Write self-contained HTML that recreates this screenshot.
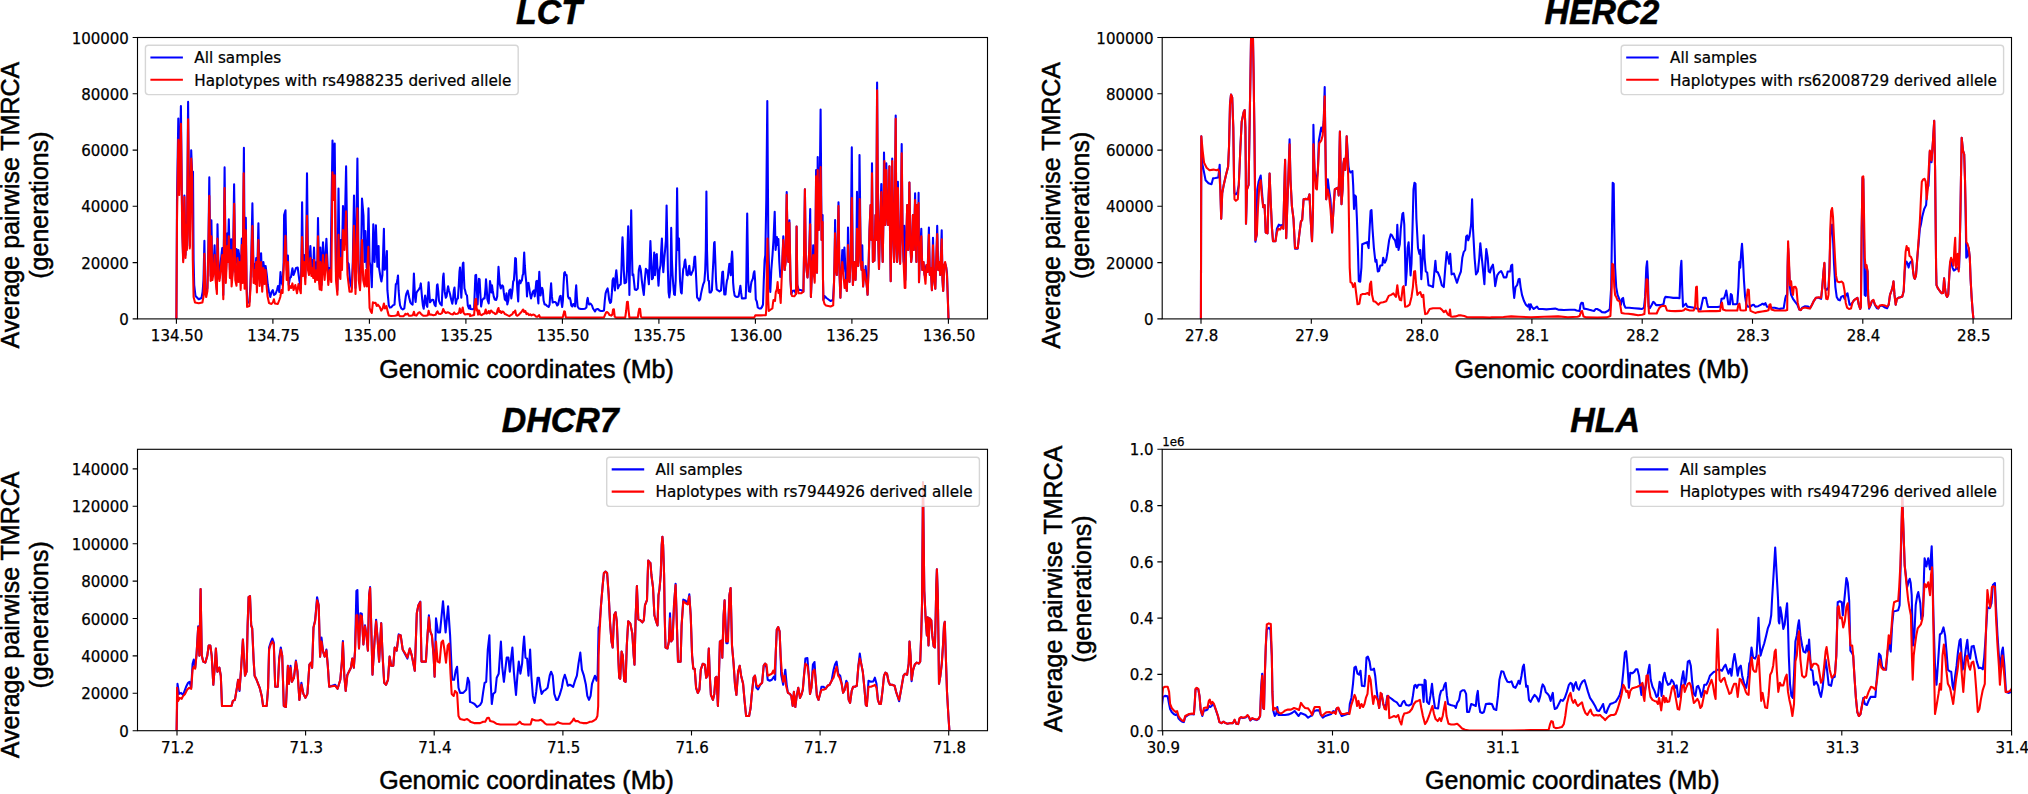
<!DOCTYPE html>
<html><head><meta charset="utf-8"><title>TMRCA</title>
<style>html,body{margin:0;padding:0;background:#fff}svg{display:block}</style></head>
<body>
<svg width="2028" height="794" viewBox="0 0 2028 794">
<rect width="2028" height="794" fill="#fff"/>
<clipPath id="c0"><rect x="137.5" y="37.5" width="850.0" height="281.4"/></clipPath>
<g clip-path="url(#c0)" fill="none" stroke-width="2.08" stroke-linejoin="round" stroke-linecap="butt">
<path d="M176.4 318.8 L177.0 200.0 L178.3 118.5 L179.3 190.0 L180.9 106.0 L182.3 230.0 L183.2 260.0 L184.4 195.6 L185.5 255.0 L186.4 222.0 L186.9 248.0 L188.1 101.9 L189.3 230.0 L189.8 246.0 L191.2 150.3 L192.2 175.0 L193.0 171.7 L193.6 260.0 L194.2 285.0 L195.5 296.0 L198.7 299.3 L201.5 298.0 L202.6 292.0 L203.5 280.0 L204.4 240.8 L205.2 288.0 L206.2 293.0 L207.4 288.0 L208.4 245.0 L209.3 177.4 L210.3 258.0 L210.7 276.0 L211.4 220.4 L212.4 275.0 L213.6 265.0 L214.6 245.4 L215.6 275.0 L216.9 290.0 L217.5 224.3 L218.5 270.0 L219.5 278.0 L220.7 262.0 L222.2 248.0 L223.3 295.0 L224.6 167.4 L225.8 278.0 L227.4 233.3 L228.0 250.0 L228.8 219.3 L229.9 270.0 L231.2 239.3 L231.8 280.0 L233.0 262.0 L234.1 184.2 L235.3 272.0 L236.5 249.0 L237.3 262.0 L238.4 250.0 L239.6 258.0 L240.7 280.0 L241.8 238.5 L242.7 275.0 L243.9 147.9 L244.8 280.0 L245.8 217.8 L246.6 285.0 L247.3 303.0 L249.4 302.0 L250.4 285.0 L251.3 255.0 L252.4 203.4 L253.6 277.0 L254.6 264.0 L255.4 268.0 L256.2 258.0 L256.9 285.0 L258.4 223.3 L259.6 280.0 L261.1 253.3 L262.2 286.0 L263.4 262.0 L264.5 272.0 L265.6 266.0 L266.8 275.0 L267.8 285.0 L269.0 292.0 L270.3 297.0 L271.5 292.0 L272.8 290.0 L274.0 295.0 L275.5 294.0 L277.0 290.0 L278.0 286.0 L279.3 292.0 L280.5 272.0 L281.4 282.0 L282.6 285.0 L283.6 262.0 L284.1 215.0 L285.5 210.2 L286.7 270.0 L287.9 255.6 L288.7 285.0 L289.9 278.0 L291.0 277.0 L292.4 268.3 L293.6 275.0 L294.7 272.0 L296.0 268.0 L297.7 267.5 L299.3 280.0 L300.8 288.0 L301.4 260.0 L302.1 202.3 L303.0 268.0 L304.0 255.0 L305.3 278.0 L306.2 240.0 L307.0 173.3 L308.0 262.0 L309.0 268.0 L310.4 246.1 L311.4 270.0 L312.6 260.0 L313.2 270.0 L314.0 247.6 L315.1 277.0 L316.5 262.0 L317.2 272.0 L318.0 218.1 L319.0 272.0 L319.7 284.0 L320.4 247.6 L321.5 285.0 L323.0 242.3 L324.6 272.0 L326.4 238.9 L328.3 280.0 L329.2 268.0 L330.5 276.0 L332.5 140.5 L333.6 190.0 L334.7 143.5 L336.0 272.0 L337.4 290.0 L338.5 188.5 L339.6 268.0 L340.8 240.0 L341.8 262.0 L343.0 206.0 L344.5 240.0 L346.1 166.4 L347.5 262.0 L348.7 264.0 L350.2 283.0 L351.7 288.0 L352.8 262.0 L354.0 195.6 L355.5 288.0 L357.4 158.6 L358.7 272.0 L360.0 284.0 L361.0 262.0 L362.0 198.6 L363.5 215.9 L364.5 262.0 L365.4 231.0 L366.7 268.0 L367.6 250.0 L368.5 208.3 L369.6 262.0 L370.8 267.5 L371.8 287.2 L372.2 270.0 L373.3 224.3 L374.6 262.0 L375.9 225.3 L377.4 266.8 L378.6 246.1 L379.0 267.6 L380.5 277.4 L381.4 281.5 L382.4 275.1 L383.9 228.7 L384.6 269.8 L385.8 266.8 L386.9 251.0 L387.4 290.2 L388.8 305.4 L389.9 307.6 L391.4 307.2 L392.9 305.4 L394.5 304.6 L395.2 294.0 L395.8 284.2 L396.7 283.4 L397.5 278.9 L398.0 275.5 L398.6 290.2 L399.4 300.0 L400.1 305.4 L401.3 308.4 L402.8 309.5 L404.3 308.4 L405.0 302.3 L405.8 296.3 L406.5 293.3 L407.7 290.6 L408.4 294.0 L409.2 297.8 L410.3 302.3 L411.5 303.8 L412.6 304.6 L413.3 290.2 L413.9 273.6 L414.5 286.5 L415.1 297.8 L415.6 302.0 L416.4 293.3 L417.1 291.7 L418.3 290.2 L419.4 288.7 L420.2 286.5 L420.8 283.4 L421.4 290.2 L422.2 299.3 L422.9 305.4 L423.7 308.8 L424.3 302.3 L425.1 295.5 L425.8 299.3 L426.6 305.4 L427.3 306.9 L427.9 294.0 L428.6 282.3 L429.2 291.7 L430.0 302.3 L431.1 300.8 L432.2 299.7 L433.4 300.0 L434.5 304.6 L435.6 306.1 L436.4 296.3 L437.0 285.0 L437.5 284.3 L438.3 291.7 L439.0 300.8 L440.2 303.8 L441.7 305.4 L442.4 290.2 L443.1 276.6 L443.6 273.6 L444.1 284.2 L444.7 291.7 L445.8 297.8 L446.6 296.3 L447.4 290.2 L448.1 286.3 L448.9 290.2 L450.0 294.0 L451.1 299.3 L452.3 303.8 L453.0 299.3 L453.9 290.2 L454.5 287.6 L455.1 296.3 L455.9 303.8 L456.8 299.3 L457.9 298.5 L458.7 286.5 L459.5 271.3 L460.0 267.6 L460.6 282.7 L461.3 297.8 L461.7 290.2 L462.3 271.3 L462.9 263.4 L463.4 262.6 L464.0 278.9 L464.5 288.7 L465.1 290.2 L465.9 294.0 L467.0 295.5 L467.8 305.4 L468.9 308.4 L470.0 305.4 L470.5 309.0 L472.6 309.3 L474.1 308.5 L474.8 290.4 L475.4 275.3 L476.1 274.8 L476.9 290.4 L477.6 304.5 L478.3 290.4 L478.9 278.8 L479.6 279.3 L480.3 292.4 L481.1 306.5 L482.1 300.5 L483.6 298.4 L484.6 298.4 L485.5 288.4 L486.0 279.3 L486.7 288.4 L487.4 299.4 L488.7 303.5 L489.5 290.4 L490.0 281.1 L490.7 285.3 L491.4 292.4 L492.0 285.3 L492.7 290.4 L493.7 296.4 L494.7 299.4 L496.2 299.9 L497.2 296.4 L497.9 280.3 L498.5 266.7 L499.1 275.3 L499.8 284.3 L500.8 288.4 L501.5 285.8 L502.3 285.3 L503.1 286.3 L503.8 292.4 L504.8 299.4 L505.8 300.5 L506.5 293.4 L507.3 304.5 L508.3 300.5 L509.3 290.4 L510.3 289.4 L511.3 298.4 L512.4 290.4 L513.2 281.3 L513.9 280.3 L514.6 270.2 L515.2 258.1 L515.9 258.6 L516.6 275.3 L517.4 290.4 L518.2 301.5 L518.9 282.3 L519.6 280.3 L520.4 283.3 L521.2 281.3 L521.9 280.3 L522.6 275.3 L523.2 274.3 L523.8 260.2 L524.2 252.6 L524.8 265.2 L525.5 274.8 L526.3 282.3 L527.0 296.4 L527.7 283.3 L528.5 282.8 L529.3 288.4 L530.0 293.4 L531.0 298.4 L532.0 294.4 L533.0 291.4 L534.0 290.4 L534.7 296.4 L535.5 290.4 L536.3 281.3 L537.0 280.8 L537.7 296.4 L538.4 303.5 L538.9 280.3 L539.3 271.7 L539.8 282.3 L540.6 295.4 L541.3 290.4 L542.1 287.9 L542.8 290.4 L543.6 300.5 L544.6 304.5 L545.6 304.5 L547.1 306.0 L548.6 307.0 L549.6 304.5 L550.4 292.4 L551.1 283.3 L551.9 296.4 L552.7 302.5 L553.7 302.0 L555.2 302.0 L556.2 303.0 L557.2 305.5 L558.2 304.5 L559.2 299.4 L559.9 296.4 L560.7 295.9 L561.5 302.5 L562.2 307.0 L562.9 300.5 L563.5 285.3 L564.2 273.2 L564.9 272.2 L565.8 275.3 L566.6 275.1 L567.3 285.3 L568.0 296.4 L568.8 298.4 L569.8 297.9 L570.6 300.5 L571.3 305.5 L572.3 306.5 L573.3 304.0 L574.3 304.5 L575.0 306.5 L575.6 292.4 L576.2 285.3 L576.8 296.4 L577.6 306.5 L578.9 308.5 L580.9 309.0 L582.9 309.0 L584.9 308.8 L586.4 307.5 L587.1 300.5 L587.7 297.9 L588.4 302.5 L589.1 304.5 L589.9 303.5 L590.9 304.0 L592.0 305.5 L593.0 308.5 L594.0 310.0 L595.0 311.5 L596.0 309.5 L597.5 309.0 L598.5 309.3 L599.5 310.5 L601.0 311.0 L602.5 311.0 L604.0 310.5 L604.8 300.5 L605.6 293.4 L606.6 290.4 L607.6 288.4 L608.3 292.4 L609.1 299.4 L610.1 303.0 L611.1 302.0 L611.9 292.4 L612.6 280.3 L613.3 278.3 L614.1 284.3 L614.9 290.4 L615.6 276.3 L616.3 270.2 L617.1 278.3 L617.9 288.4 L619.2 285.3 L620.7 284.3 L621.4 270.2 L622.0 250.1 L622.5 237.3 L623.1 250.1 L623.8 270.2 L624.5 283.3 L626.2 282.3 L627.0 270.2 L627.6 245.0 L628.2 226.4 L628.8 260.2 L629.4 294.9 L630.0 260.2 L630.6 240.0 L631.2 210.3 L631.9 250.1 L632.5 275.3 L633.3 274.3 L634.8 289.4 L636.3 289.9 L637.8 288.4 L638.8 270.2 L639.8 265.7 L640.8 270.2 L641.8 280.3 L642.8 288.4 L643.8 294.9 L644.8 280.3 L645.9 268.7 L646.7 272.2 L647.4 270.2 L648.2 278.3 L648.9 284.3 L649.7 260.2 L650.4 241.0 L651.2 260.2 L651.9 279.3 L652.9 278.3 L653.6 265.2 L654.2 252.6 L654.9 270.2 L655.0 275.3 L656.0 255.1 L656.8 254.1 L657.5 270.2 L658.5 285.8 L659.5 270.2 L660.5 265.2 L661.2 250.1 L661.9 238.5 L662.6 260.2 L663.3 272.2 L664.3 258.1 L665.1 250.1 L665.9 240.0 L666.6 205.5 L667.3 240.0 L667.9 270.2 L668.6 292.4 L669.3 297.4 L670.1 290.4 L670.7 270.2 L671.2 227.9 L671.9 260.2 L672.6 275.3 L673.3 285.3 L674.1 294.4 L674.9 294.9 L675.7 280.3 L676.4 250.1 L677.1 188.3 L677.8 240.0 L678.4 250.1 L679.0 238.5 L679.4 260.2 L680.0 280.3 L681.0 292.4 L681.7 293.4 L682.4 280.3 L683.2 269.2 L684.0 267.2 L684.7 261.2 L685.2 259.6 L686.0 267.2 L686.7 274.8 L687.7 275.3 L688.6 270.2 L689.3 265.7 L690.1 274.3 L691.1 274.8 L692.1 272.2 L693.1 270.2 L693.8 265.2 L694.5 257.1 L695.1 256.6 L695.8 270.2 L696.5 285.3 L697.1 297.4 L698.1 298.4 L699.1 300.5 L700.1 299.4 L701.1 293.4 L702.2 288.4 L703.2 284.3 L704.4 281.3 L705.2 270.2 L705.8 250.1 L706.4 191.6 L707.0 250.1 L707.6 270.2 L708.2 280.3 L708.9 280.8 L709.6 292.4 L710.9 292.4 L711.9 290.4 L712.6 275.3 L713.4 260.2 L714.1 243.0 L714.6 242.0 L715.3 260.2 L716.0 280.3 L716.7 289.4 L718.0 290.4 L719.5 291.4 L721.0 290.4 L721.7 280.3 L722.3 272.2 L723.0 271.7 L723.7 285.3 L724.3 294.4 L725.5 294.4 L726.3 285.3 L727.0 280.3 L727.7 278.3 L728.6 270.2 L729.4 263.7 L730.1 270.2 L730.8 275.3 L731.4 260.2 L732.1 251.6 L732.6 260.2 L733.1 282.3 L733.8 290.4 L734.6 295.4 L735.6 296.4 L737.1 296.9 L738.6 296.4 L739.6 290.4 L740.4 285.8 L741.1 292.4 L741.9 298.4 L743.7 298.4 L745.7 298.2 L746.3 280.3 L746.8 240.0 L747.2 213.5 L747.6 240.0 L748.2 280.3 L748.9 291.4 L750.2 291.9 L750.9 285.3 L751.5 281.8 L752.2 280.3 L752.9 278.3 L753.7 273.2 L754.4 271.2 L755.1 280.3 L755.8 299.4 L756.8 301.5 L757.8 307.5 L759.3 308.5 L760.8 308.5 L762.0 307.0 L763.0 304.5 L763.8 280.3 L764.6 260.2 L765.3 255.1 L763.8 280.3 L765.3 255.0 L766.3 200.0 L767.3 101.0 L768.3 240.0 L769.2 275.0 L770.3 292.0 L771.3 270.0 L772.5 255.0 L773.5 240.0 L774.7 211.7 L775.6 250.0 L776.9 237.0 L777.6 245.0 L778.4 239.0 L779.3 262.0 L780.3 277.0 L782.0 270.0 L783.3 236.3 L784.6 270.0 L785.6 262.0 L786.7 192.0 L787.8 255.0 L788.4 262.0 L789.4 220.4 L790.5 280.0 L791.3 294.0 L792.5 291.0 L794.5 290.5 L796.0 294.0 L796.6 226.5 L797.3 285.0 L798.8 290.0 L801.0 290.0 L803.4 291.7 L804.1 250.0 L804.9 189.4 L805.8 260.0 L806.6 270.0 L807.5 277.4 L808.6 262.0 L809.3 250.0 L810.2 209.1 L810.9 297.0 L811.8 275.0 L812.6 262.0 L813.2 245.4 L813.9 275.0 L814.7 268.0 L815.4 250.0 L816.1 170.0 L817.0 272.8 L817.7 157.1 L818.8 230.0 L819.6 200.0 L820.6 109.5 L821.6 240.0 L822.6 215.1 L823.0 280.0 L823.4 300.0 L824.5 296.0 L826.5 298.0 L830.5 301.0 L833.0 300.0 L834.0 282.7 L834.5 262.0 L835.1 220.0 L835.9 268.0 L836.8 275.0 L837.6 250.0 L838.5 202.3 L839.4 270.0 L840.4 297.8 L841.2 275.0 L842.3 250.0 L843.2 272.0 L844.4 247.6 L845.5 270.0 L846.8 291.0 L847.5 270.0 L848.0 227.6 L848.7 272.0 L849.5 282.0 L850.6 262.0 L851.8 147.4 L852.9 285.0 L853.8 270.0 L854.6 262.0 L855.5 280.0 L856.3 262.0 L857.0 191.7 L858.2 266.0 L859.0 240.0 L859.5 155.1 L860.8 262.0 L861.6 270.0 L862.3 245.4 L863.1 286.5 L864.2 270.0 L865.0 275.0 L865.7 266.0 L866.7 285.0 L867.6 294.8 L868.5 270.0 L869.5 230.0 L870.6 205.0 L871.4 240.0 L872.0 163.3 L872.9 262.0 L873.6 240.0 L874.4 260.8 L875.5 215.0 L876.2 240.0 L877.1 82.6 L878.1 235.0 L879.0 269.0 L880.0 225.0 L881.3 184.0 L882.0 240.0 L882.7 262.0 L883.5 215.0 L884.0 152.5 L885.3 225.0 L886.3 163.3 L887.2 215.0 L888.0 225.0 L888.7 205.0 L889.4 166.3 L890.1 240.0 L890.7 281.2 L891.4 230.0 L892.2 158.6 L893.2 235.0 L894.1 262.0 L894.9 200.0 L895.7 115.6 L896.4 245.0 L897.1 262.0 L897.9 181.7 L898.8 240.0 L900.1 263.8 L900.9 220.0 L901.7 144.1 L902.6 235.0 L903.6 262.0 L904.3 225.7 L905.4 280.0 L906.3 240.0 L907.2 205.0 L908.2 250.0 L909.4 182.5 L910.4 245.0 L911.2 262.0 L911.9 255.0 L912.9 215.0 L913.8 250.0 L915.1 193.2 L915.9 240.0 L916.4 262.0 L917.2 205.0 L917.9 245.0 L918.6 192.9 L919.0 282.3 L919.9 255.0 L921.3 228.7 L922.3 270.0 L923.5 262.0 L924.5 275.0 L925.2 269.0 L926.5 265.0 L927.6 272.0 L928.9 227.6 L929.8 275.0 L930.8 268.0 L931.9 290.2 L933.0 237.8 L934.1 280.0 L935.3 288.7 L936.2 262.0 L937.2 225.7 L938.2 270.0 L939.2 262.0 L940.2 275.0 L941.7 230.2 L942.5 280.0 L943.2 291.0 L944.2 265.0 L945.3 264.0 L946.2 267.0 L947.0 273.0 L948.5 318.8" stroke="#0000ff"/>
<path d="M176.4 318.8 L177.0 220.0 L178.3 139.7 L179.3 195.0 L180.9 123.8 L182.3 235.0 L183.2 262.3 L184.4 197.0 L185.5 258.0 L186.4 225.0 L186.9 250.0 L188.1 119.3 L189.3 235.0 L189.8 248.4 L191.2 158.6 L192.2 178.0 L192.8 260.0 L193.6 297.0 L195.0 302.5 L198.7 303.2 L202.4 302.5 L203.6 296.0 L204.4 253.7 L205.2 292.0 L206.2 297.0 L207.4 291.0 L208.4 250.0 L209.3 195.9 L210.3 262.0 L210.7 281.0 L211.4 236.3 L212.4 280.0 L213.6 272.0 L214.6 255.0 L215.6 280.0 L216.9 294.0 L217.5 238.5 L218.5 275.0 L219.5 281.0 L220.7 270.0 L222.2 255.0 L223.3 299.3 L224.6 188.0 L225.8 283.0 L227.4 246.0 L228.0 262.0 L228.8 236.3 L229.9 278.0 L231.0 250.0 L231.6 286.5 L233.0 270.0 L234.2 203.8 L235.3 280.0 L236.5 285.7 L237.5 258.0 L238.6 282.0 L239.6 262.0 L240.7 289.9 L241.8 245.0 L242.7 283.0 L243.7 173.3 L244.6 288.7 L245.8 230.2 L246.6 290.0 L247.1 306.9 L249.4 306.0 L250.4 290.0 L251.3 262.0 L252.4 226.1 L253.6 283.0 L254.6 270.0 L255.4 284.0 L256.2 262.0 L256.9 292.5 L258.4 240.1 L259.6 286.0 L261.1 262.0 L262.2 291.7 L263.4 268.0 L264.5 284.0 L265.6 270.0 L266.5 285.0 L267.5 296.0 L269.0 303.0 L271.5 304.0 L273.0 302.0 L273.9 299.3 L274.9 303.5 L277.8 304.0 L279.3 300.0 L280.3 297.0 L281.4 290.0 L282.6 293.0 L283.6 270.0 L285.5 235.9 L286.7 280.0 L287.9 262.0 L288.7 290.2 L289.9 286.0 L291.2 288.0 L292.4 283.4 L293.6 290.0 L295.3 285.0 L297.0 293.3 L298.5 284.0 L300.8 293.3 L301.4 270.0 L302.1 237.0 L303.0 276.0 L304.0 262.0 L305.3 284.2 L306.2 250.0 L307.0 215.9 L308.0 270.0 L309.0 275.0 L310.4 258.0 L311.4 276.0 L312.6 268.0 L313.2 278.0 L314.0 260.0 L315.1 281.9 L316.5 270.0 L317.2 280.0 L318.0 236.3 L319.0 280.0 L319.7 289.5 L320.4 262.0 L321.5 290.2 L323.0 255.0 L324.6 280.0 L326.4 254.5 L328.3 285.0 L329.8 270.0 L331.3 282.0 L332.5 172.2 L333.6 200.0 L334.7 175.2 L336.0 280.0 L337.4 294.8 L338.5 234.8 L339.5 275.0 L340.4 279.0 L340.8 258.0 L342.0 270.0 L343.0 230.0 L344.5 250.0 L346.1 211.3 L347.5 275.0 L349.5 291.7 L351.7 291.7 L352.8 270.0 L354.0 225.7 L355.5 294.0 L357.4 208.3 L358.7 280.0 L360.0 290.2 L361.0 270.0 L362.0 240.0 L363.2 280.0 L364.6 286.5 L365.8 270.0 L366.9 286.5 L367.6 262.0 L368.4 246.9 L369.0 290.0 L369.6 308.0 L370.8 311.5 L371.8 313.0 L372.9 302.3 L374.0 303.0 L375.5 302.7 L376.7 306.0 L377.8 304.6 L379.7 306.9 L381.2 310.6 L382.7 308.4 L383.9 303.5 L385.0 308.4 L386.5 306.1 L387.6 311.4 L388.8 315.6 L391.0 316.0 L394.8 315.8 L397.1 315.2 L398.0 311.8 L399.0 315.2 L400.1 316.3 L403.1 316.3 L404.7 315.2 L405.4 313.8 L406.5 314.4 L407.7 313.5 L408.8 315.6 L410.7 315.8 L412.8 315.2 L413.9 311.8 L414.9 315.2 L416.4 315.6 L418.3 312.9 L419.6 312.2 L420.9 313.7 L422.0 314.8 L423.6 315.8 L425.8 315.8 L427.9 315.2 L428.6 310.8 L429.4 314.4 L431.1 314.6 L433.4 315.2 L435.6 314.8 L436.8 312.2 L437.5 311.4 L438.7 313.7 L440.6 314.0 L442.1 312.9 L443.2 309.0 L444.3 311.4 L445.8 312.9 L447.7 312.2 L449.2 312.9 L450.8 314.0 L453.0 314.4 L454.2 312.5 L455.3 314.0 L457.6 313.8 L459.1 312.2 L459.8 308.4 L460.7 312.9 L461.7 311.4 L462.7 307.5 L463.6 312.9 L465.1 314.4 L467.4 314.0 L470.0 314.4 L470.0 316.1 L472.1 315.6 L474.1 315.1 L474.8 305.5 L475.4 299.4 L476.1 298.9 L476.7 310.5 L477.3 309.5 L478.1 314.6 L479.1 310.5 L480.1 314.6 L481.6 315.1 L483.1 314.1 L484.6 313.6 L485.7 309.5 L486.5 313.6 L487.7 313.0 L488.7 311.0 L489.7 313.4 L491.0 310.5 L492.0 311.5 L493.0 312.5 L494.2 313.0 L495.2 314.1 L496.7 313.6 L497.7 309.5 L498.5 308.0 L499.3 312.0 L500.3 311.0 L501.3 313.0 L502.5 311.5 L503.8 312.3 L504.8 314.1 L506.3 314.6 L507.8 315.4 L509.3 316.1 L510.8 315.1 L512.4 314.1 L513.4 312.0 L514.4 312.5 L515.2 310.5 L516.2 315.1 L517.4 315.8 L518.9 314.6 L520.4 313.0 L521.4 312.0 L522.4 310.5 L523.2 309.5 L524.2 312.0 L525.3 311.0 L526.5 314.1 L527.7 313.4 L529.0 315.1 L530.3 314.4 L531.5 315.4 L533.0 314.6 L534.5 315.1 L536.0 316.6 L537.5 316.8 L539.1 315.1 L540.1 317.4 L545.6 317.6 L555.7 317.6 L562.7 317.6 L563.5 314.6 L564.2 311.3 L564.9 311.7 L565.8 317.4 L575.8 317.6 L596.0 317.6 L604.0 317.4 L605.1 314.6 L606.1 312.5 L607.1 312.0 L608.3 313.0 L609.6 315.1 L611.1 315.6 L612.3 314.6 L613.1 309.5 L613.9 309.3 L614.7 316.6 L616.1 317.6 L625.2 317.6 L626.2 310.5 L627.0 302.0 L627.8 301.7 L628.6 310.5 L629.4 317.6 L637.8 317.6 L638.5 312.5 L639.3 308.7 L640.1 309.0 L640.9 316.6 L641.8 317.6 L654.9 317.6 L655.0 317.6 L754.2 317.6 L755.3 315.4 L760.8 315.4 L765.8 315.1 L766.3 309.0 L766.9 270.0 L767.5 238.5 L768.2 300.0 L768.8 311.0 L770.1 310.0 L772.4 308.4 L773.0 303.0 L773.5 300.0 L775.0 301.0 L775.8 292.0 L776.9 289.0 L777.6 282.0 L778.4 293.0 L779.5 290.0 L780.7 303.0 L782.0 270.0 L783.3 240.0 L784.6 270.0 L785.6 262.0 L786.7 194.7 L787.8 255.0 L788.4 262.0 L789.4 222.7 L790.5 280.0 L791.3 294.0 L792.0 295.9 L794.3 296.3 L796.0 294.0 L796.6 226.5 L797.3 285.0 L798.5 293.3 L801.1 293.3 L803.4 291.7 L804.1 250.0 L804.9 189.4 L805.8 260.0 L806.6 270.0 L807.5 277.4 L808.6 262.0 L809.3 250.0 L810.2 224.2 L810.9 297.0 L811.8 275.0 L812.6 262.0 L813.2 255.0 L813.9 275.0 L814.7 282.7 L815.4 250.0 L816.1 176.3 L817.0 272.8 L817.7 170.0 L818.8 230.0 L819.6 200.0 L820.6 167.1 L821.6 240.0 L822.6 222.0 L823.0 280.0 L823.4 300.0 L824.5 304.0 L826.0 305.4 L830.6 306.5 L833.2 305.4 L834.0 282.7 L834.5 262.0 L835.1 233.3 L835.9 268.0 L836.8 275.0 L837.6 250.0 L838.5 206.0 L839.4 270.0 L840.4 297.8 L841.2 275.0 L842.3 262.0 L843.2 272.0 L844.6 288.0 L845.7 280.0 L846.8 291.0 L847.5 270.0 L848.0 245.0 L848.7 272.0 L849.5 282.0 L850.6 262.0 L851.8 198.0 L852.9 285.0 L853.8 270.0 L854.6 262.0 L855.5 280.0 L856.3 262.0 L857.0 228.7 L858.2 266.0 L859.0 240.0 L859.7 199.0 L860.8 262.0 L861.6 270.0 L862.3 262.0 L863.1 286.5 L864.2 270.0 L865.0 275.0 L865.8 280.0 L866.7 285.0 L867.6 294.8 L868.5 270.0 L869.5 230.0 L870.6 205.0 L871.4 240.0 L872.0 173.2 L872.9 262.0 L873.6 240.0 L874.4 260.8 L875.5 215.0 L876.2 240.0 L877.1 90.3 L878.1 235.0 L879.0 269.0 L880.0 225.0 L881.3 192.0 L882.0 240.0 L882.7 262.0 L883.5 215.0 L884.4 161.0 L885.3 225.0 L886.3 170.0 L887.2 215.0 L888.0 225.0 L888.7 205.0 L889.4 166.3 L890.1 240.0 L890.7 281.2 L891.4 230.0 L892.2 161.0 L893.2 235.0 L894.1 262.0 L894.9 200.0 L895.7 118.7 L896.4 245.0 L897.1 262.0 L897.9 188.0 L898.8 240.0 L900.1 263.8 L900.9 220.0 L901.7 153.3 L902.6 235.0 L903.6 262.0 L904.7 288.0 L905.4 288.0 L906.3 240.0 L907.2 205.0 L908.2 250.0 L909.4 182.5 L910.4 245.0 L911.2 262.0 L911.9 255.0 L912.9 215.0 L913.8 250.0 L915.1 200.0 L915.9 240.0 L916.4 262.0 L917.2 205.0 L917.9 245.0 L918.6 203.0 L919.0 282.3 L919.9 255.0 L921.3 236.3 L922.3 270.0 L923.5 262.0 L924.5 275.0 L925.5 283.8 L926.5 265.0 L927.6 272.0 L928.9 234.8 L929.8 275.0 L930.8 268.0 L931.9 290.2 L933.0 245.4 L934.1 280.0 L935.3 288.7 L936.2 262.0 L937.2 234.0 L938.2 270.0 L939.2 262.0 L940.2 275.0 L941.7 239.3 L942.5 280.0 L943.2 291.0 L944.2 265.0 L945.1 262.0 L946.2 268.0 L947.0 276.0 L948.5 318.8" stroke="#ff0000"/>
</g>
<rect x="137.5" y="37.5" width="850.0" height="281.4" fill="none" stroke="#000" stroke-width="1.11"/>
<path d="M176.4 318.9v4.86M272.9 318.9v4.86M369.4 318.9v4.86M465.9 318.9v4.86M562.4 318.9v4.86M658.9 318.9v4.86M755.4 318.9v4.86M851.9 318.9v4.86M948.4 318.9v4.86M137.5 318.9h-4.86M137.5 262.6h-4.86M137.5 206.3h-4.86M137.5 150.1h-4.86M137.5 93.8h-4.86M137.5 37.5h-4.86" stroke="#000" stroke-width="1.11" fill="none"/>
<g font-family='"DejaVu Sans", "Liberation Sans", sans-serif' font-size="15.28" fill="#000" stroke="#000" stroke-width="0.25">
<text transform="translate(177.1 341.2)" font-size="15" text-anchor="middle">134.50</text>
<text transform="translate(273.6 341.2)" font-size="15" text-anchor="middle">134.75</text>
<text transform="translate(370.1 341.2)" font-size="15" text-anchor="middle">135.00</text>
<text transform="translate(466.6 341.2)" font-size="15" text-anchor="middle">135.25</text>
<text transform="translate(563.1 341.2)" font-size="15" text-anchor="middle">135.50</text>
<text transform="translate(659.6 341.2)" font-size="15" text-anchor="middle">135.75</text>
<text transform="translate(756.1 341.2)" font-size="15" text-anchor="middle">136.00</text>
<text transform="translate(852.6 341.2)" font-size="15" text-anchor="middle">136.25</text>
<text transform="translate(949.1 341.2)" font-size="15" text-anchor="middle">136.50</text>
<text transform="translate(128.9 324.9)" font-size="15" text-anchor="end">0</text>
<text transform="translate(128.9 268.6)" font-size="15" text-anchor="end">20000</text>
<text transform="translate(128.9 212.3)" font-size="15" text-anchor="end">40000</text>
<text transform="translate(128.9 156.1)" font-size="15" text-anchor="end">60000</text>
<text transform="translate(128.9 99.8)" font-size="15" text-anchor="end">80000</text>
<text transform="translate(128.9 43.5)" font-size="15" text-anchor="end">100000</text>
<rect x="145.4" y="45.3" width="372.8" height="49.3" rx="3" ry="3" fill="#fff" fill-opacity="0.8" stroke="#ccc" stroke-opacity="0.8" stroke-width="1.39"/>
<path d="M150.4 57.5h32.5" stroke="#0000ff" stroke-width="2.08"/>
<path d="M150.4 79.7h32.5" stroke="#ff0000" stroke-width="2.08"/>
<text transform="translate(194.3 63.3) scale(1 0.99)" font-size="15.2">All samples</text>
<text transform="translate(194.3 85.5) scale(1 0.99)" font-size="15.2">Haplotypes with rs4988235 derived allele</text>
</g>
<text transform="translate(516.1 24.3) scale(1 1.02)" font-family='"Liberation Sans", "DejaVu Sans", sans-serif' font-size="33.9" font-weight="bold" font-style="italic" stroke="#000" stroke-width="0.5">LCT</text>
<text x="379.2" y="378.1" font-family='"Liberation Sans", "DejaVu Sans", sans-serif' font-size="25" stroke="#000" stroke-width="0.5">Genomic coordinates (Mb)</text>
<text transform="translate(19.1 205.1) rotate(-90)" text-anchor="middle" font-family='"Liberation Sans", "DejaVu Sans", sans-serif' font-size="25" stroke="#000" stroke-width="0.5">Average pairwise TMRCA</text>
<text transform="translate(47.9 205.1) rotate(-90)" text-anchor="middle" font-family='"Liberation Sans", "DejaVu Sans", sans-serif' font-size="25" stroke="#000" stroke-width="0.5">(generations)</text>
<clipPath id="c1"><rect x="1162.2" y="37.5" width="849.3" height="281.4"/></clipPath>
<g clip-path="url(#c1)" fill="none" stroke-width="2.08" stroke-linejoin="round" stroke-linecap="butt">
<path d="M1200.9 318.7 L1201.3 136.4 L1202.1 162.8 L1203.7 170.6 L1205.6 180.3 L1208.5 183.3 L1211.5 184.2 L1213.0 178.4 L1215.4 178.0 L1218.3 177.4 L1219.7 164.7 L1221.2 218.8 L1222.2 193.4 L1223.6 185.6 L1226.1 174.5 L1228.1 166.7 L1229.0 147.2 L1230.0 104.2 L1231.0 94.5 L1232.2 97.4 L1233.3 127.6 L1234.1 185.0 L1234.5 193.4 L1235.9 194.4 L1237.4 192.4 L1238.8 185.0 L1240.4 147.2 L1241.7 121.8 L1243.7 112.0 L1244.7 110.1 L1245.4 127.6 L1245.8 170.0 L1246.0 223.7 L1247.0 189.5 L1248.6 185.0 L1249.5 131.0 L1250.5 72.4 L1251.1 33.4 L1252.9 33.4 L1253.6 72.4 L1254.4 131.0 L1255.0 189.5 L1255.4 241.8 L1256.8 234.4 L1257.3 189.5 L1258.7 181.3 L1260.7 175.5 L1261.8 189.5 L1263.2 207.1 L1264.6 205.1 L1265.7 232.5 L1267.5 233.4 L1268.5 199.3 L1269.6 173.5 L1270.6 199.3 L1272.0 228.6 L1273.0 241.2 L1275.5 241.2 L1276.9 228.6 L1278.8 224.7 L1280.8 225.6 L1282.7 224.7 L1283.3 228.6 L1284.3 189.5 L1285.1 159.8 L1285.8 209.0 L1286.2 238.3 L1287.2 209.0 L1288.6 170.0 L1289.6 139.4 L1290.5 179.8 L1291.9 206.1 L1293.5 218.8 L1295.0 248.7 L1297.7 248.7 L1299.3 234.4 L1300.9 221.7 L1302.2 219.8 L1303.6 199.3 L1306.1 198.9 L1308.1 199.3 L1309.5 194.4 L1310.6 218.8 L1312.0 241.2 L1313.0 209.0 L1313.4 124.7 L1314.5 170.0 L1315.9 181.7 L1316.9 177.8 L1317.9 170.0 L1318.8 141.3 L1321.2 127.6 L1322.7 131.9 L1323.7 121.2 L1324.7 87.0 L1325.5 150.5 L1326.2 199.3 L1327.8 179.4 L1329.0 189.5 L1330.5 199.3 L1332.1 232.5 L1333.5 209.0 L1334.8 189.5 L1336.4 188.5 L1338.0 187.6 L1338.7 195.4 L1339.5 150.5 L1339.9 131.5 L1340.7 170.0 L1341.5 204.2 L1342.6 189.5 L1343.4 164.1 L1344.2 158.9 L1345.2 170.0 L1346.2 150.5 L1346.7 136.4 L1348.5 166.1 L1349.1 170.0 L1350.5 172.5 L1352.4 171.0 L1353.2 185.6 L1354.0 209.0 L1354.9 195.4 L1355.9 196.4 L1356.9 218.8 L1357.9 248.1 L1358.8 281.3 L1360.2 281.7 L1361.4 267.6 L1362.2 244.2 L1364.7 243.2 L1367.2 242.2 L1368.6 248.1 L1369.6 228.6 L1370.6 211.0 L1371.5 210.0 L1372.5 228.6 L1373.9 248.1 L1375.4 261.7 L1376.4 259.8 L1377.8 271.5 L1379.0 271.1 L1380.3 265.6 L1382.3 265.3 L1383.2 257.8 L1384.8 262.7 L1386.2 259.8 L1387.5 252.0 L1389.1 240.3 L1390.7 234.4 L1392.0 235.4 L1393.4 238.3 L1395.0 240.3 L1396.5 247.1 L1397.3 224.7 L1398.5 250.0 L1399.8 244.2 L1400.8 228.6 L1402.4 213.9 L1403.2 212.9 L1404.3 224.7 L1405.1 257.8 L1405.7 285.2 L1406.7 271.5 L1407.6 248.1 L1408.6 242.2 L1409.6 257.8 L1410.6 275.4 L1411.5 263.7 L1412.5 228.6 L1413.5 189.5 L1414.5 182.7 L1415.5 183.7 L1416.4 218.8 L1418.0 248.1 L1419.4 253.9 L1420.3 250.0 L1421.3 279.3 L1422.7 257.8 L1423.7 235.4 L1424.6 257.8 L1425.8 271.5 L1427.2 272.5 L1428.5 285.2 L1431.1 286.1 L1433.0 287.1 L1434.4 271.5 L1435.4 260.8 L1436.3 271.5 L1437.9 272.5 L1439.9 277.4 L1441.8 285.2 L1443.8 287.1 L1445.3 267.6 L1446.7 252.0 L1448.1 257.8 L1449.2 263.7 L1450.2 253.9 L1451.6 274.4 L1453.9 273.5 L1455.5 278.3 L1457.0 282.8 L1459.0 276.4 L1460.9 271.5 L1462.3 257.8 L1463.7 252.0 L1465.2 250.0 L1466.2 236.4 L1467.2 235.4 L1468.2 240.3 L1469.5 236.4 L1471.1 224.7 L1472.1 199.3 L1473.0 228.6 L1474.6 257.8 L1476.0 274.4 L1477.9 271.5 L1479.3 257.8 L1480.3 243.2 L1481.2 252.0 L1482.8 267.6 L1484.4 284.2 L1485.1 267.6 L1486.3 249.1 L1487.7 257.8 L1488.7 271.5 L1490.0 272.5 L1491.3 267.6 L1492.9 264.7 L1494.1 273.5 L1495.2 286.1 L1497.2 275.4 L1499.1 272.5 L1501.1 271.1 L1502.4 273.5 L1503.8 277.4 L1506.4 277.4 L1507.7 271.5 L1510.3 271.5 L1511.2 265.6 L1512.2 264.7 L1513.2 287.1 L1514.2 297.9 L1515.5 287.1 L1517.1 285.2 L1518.6 279.3 L1519.6 278.9 L1520.6 287.1 L1522.0 294.9 L1523.9 300.8 L1525.9 304.7 L1527.8 306.6 L1528.8 304.3 L1529.8 309.6 L1530.8 304.3 L1531.7 306.6 L1533.7 309.0 L1535.6 307.6 L1537.0 306.6 L1538.6 309.0 L1542.5 309.0 L1546.4 309.4 L1550.3 309.0 L1555.2 308.6 L1558.1 309.6 L1563.9 310.0 L1569.8 309.8 L1574.7 309.8 L1576.6 310.5 L1579.6 310.9 L1580.5 304.7 L1581.5 302.7 L1582.9 303.1 L1583.8 308.6 L1586.4 309.0 L1589.3 309.8 L1592.2 310.5 L1594.2 310.9 L1595.6 309.0 L1597.1 309.0 L1599.5 310.2 L1602.0 312.1 L1604.9 312.5 L1607.9 310.9 L1609.8 309.0 L1611.2 287.1 L1612.0 228.6 L1612.7 182.7 L1613.7 183.7 L1614.3 228.6 L1615.1 267.6 L1616.2 287.1 L1617.6 294.9 L1619.6 299.8 L1620.9 304.7 L1622.1 298.8 L1623.1 297.9 L1624.1 304.7 L1625.4 307.6 L1629.3 307.8 L1634.2 308.2 L1639.1 308.6 L1642.0 309.0 L1644.0 307.6 L1645.1 296.9 L1646.3 267.6 L1647.1 261.4 L1647.9 277.4 L1648.7 306.6 L1649.8 308.2 L1651.8 304.7 L1653.3 301.8 L1654.7 303.1 L1656.1 305.1 L1658.6 305.1 L1661.5 304.7 L1663.5 304.3 L1664.5 298.8 L1665.4 296.9 L1669.3 297.3 L1673.2 297.9 L1677.2 297.9 L1679.5 298.2 L1680.7 267.6 L1681.4 260.8 L1682.2 287.1 L1683.0 306.6 L1684.6 304.7 L1685.9 303.7 L1687.3 306.6 L1689.8 307.0 L1692.8 307.6 L1695.7 308.2 L1698.6 309.0 L1700.6 309.6 L1702.1 302.7 L1703.1 297.9 L1706.0 297.9 L1707.0 302.7 L1708.0 307.0 L1712.3 307.0 L1717.2 307.0 L1720.5 306.6 L1721.5 298.8 L1724.0 298.4 L1725.2 294.9 L1726.3 290.6 L1727.3 296.9 L1728.3 304.3 L1729.9 304.3 L1730.8 294.0 L1731.8 294.9 L1733.0 304.3 L1735.7 304.3 L1737.3 303.7 L1738.4 287.1 L1739.4 261.7 L1740.2 267.6 L1741.2 252.0 L1742.0 243.8 L1742.9 257.8 L1743.9 279.3 L1745.1 296.9 L1746.4 304.7 L1747.8 306.6 L1750.3 306.6 L1752.3 305.1 L1753.7 304.7 L1755.2 306.6 L1758.2 306.2 L1761.1 304.7 L1762.6 303.7 L1764.0 304.7 L1765.4 303.1 L1766.9 306.6 L1769.3 307.0 L1771.8 307.6 L1774.7 307.8 L1777.7 308.6 L1780.0 309.0 L1780.7 308.6 L1783.7 308.2 L1785.2 298.8 L1786.0 295.9 L1787.2 294.9 L1787.6 267.6 L1788.1 248.1 L1788.9 263.7 L1789.9 287.1 L1791.1 294.9 L1793.0 298.8 L1795.0 301.7 L1797.3 304.7 L1799.3 309.5 L1800.8 310.1 L1802.2 307.6 L1805.1 306.2 L1808.1 306.6 L1810.0 308.2 L1812.0 304.7 L1813.9 300.8 L1815.9 297.8 L1818.8 297.8 L1821.1 298.8 L1822.3 287.1 L1823.5 271.5 L1824.4 263.3 L1825.2 288.1 L1826.6 290.0 L1827.6 289.0 L1828.5 287.1 L1829.5 267.6 L1830.3 238.3 L1831.1 226.6 L1832.1 224.6 L1833.0 238.3 L1834.0 263.7 L1835.4 287.1 L1836.7 296.9 L1838.3 299.8 L1839.9 300.4 L1841.2 296.9 L1843.2 295.9 L1844.6 298.8 L1846.1 294.9 L1847.5 293.3 L1848.5 298.8 L1849.6 304.7 L1851.0 304.7 L1852.4 302.7 L1853.9 300.4 L1855.9 298.8 L1857.4 297.8 L1858.8 304.7 L1860.2 309.0 L1860.9 306.6 L1861.7 228.5 L1862.5 177.8 L1863.3 178.8 L1864.1 248.1 L1864.7 294.9 L1865.8 295.9 L1866.6 267.6 L1867.6 271.5 L1868.2 296.9 L1869.1 308.6 L1870.5 305.6 L1871.9 301.1 L1873.4 300.4 L1875.0 305.1 L1876.9 308.2 L1878.3 308.6 L1879.7 306.2 L1882.2 305.6 L1885.1 307.6 L1887.1 308.2 L1888.7 304.7 L1890.0 294.9 L1891.4 291.0 L1892.6 287.1 L1893.5 281.6 L1894.5 294.9 L1895.7 304.7 L1896.9 298.8 L1898.4 297.8 L1900.4 297.2 L1902.3 296.5 L1903.7 291.0 L1904.7 271.5 L1905.6 263.7 L1906.6 261.7 L1907.6 263.7 L1908.6 267.6 L1909.5 263.7 L1910.9 261.7 L1912.1 260.7 L1913.1 271.5 L1914.0 277.3 L1914.8 278.9 L1916.0 275.4 L1917.3 257.8 L1918.7 242.2 L1919.9 228.5 L1920.9 224.6 L1922.2 216.8 L1924.2 209.0 L1926.1 205.1 L1927.1 189.5 L1928.5 185.6 L1929.3 170.0 L1929.8 151.5 L1931.5 162.2 L1933.0 140.7 L1934.2 120.8 L1935.1 170.0 L1935.7 228.5 L1936.1 267.6 L1936.5 285.1 L1937.8 288.1 L1939.8 291.0 L1941.7 293.3 L1943.1 293.0 L1944.1 278.3 L1944.9 287.1 L1946.0 294.9 L1947.2 296.9 L1948.2 294.9 L1949.2 277.3 L1950.1 262.7 L1951.1 261.7 L1952.5 267.6 L1953.8 270.5 L1955.4 269.5 L1957.0 267.6 L1958.3 269.5 L1959.1 267.6 L1959.7 248.1 L1960.5 209.0 L1961.1 170.0 L1961.7 137.8 L1963.0 150.5 L1964.2 154.2 L1965.0 179.8 L1965.7 218.8 L1966.3 257.8 L1967.5 255.9 L1968.7 248.1 L1969.8 257.8 L1970.6 279.3 L1971.6 296.9 L1972.6 310.5 L1973.4 318.7" stroke="#0000ff"/>
<path d="M1200.9 318.7 L1201.3 136.4 L1202.7 151.1 L1204.1 162.8 L1206.6 167.7 L1209.5 170.2 L1213.4 169.6 L1216.4 170.2 L1218.3 169.6 L1219.3 172.5 L1220.3 189.5 L1221.2 218.8 L1222.2 193.4 L1223.6 185.6 L1226.1 174.5 L1228.1 166.7 L1229.0 147.2 L1230.0 104.2 L1231.0 94.5 L1232.2 97.4 L1233.3 127.6 L1234.1 185.0 L1234.5 199.3 L1235.9 200.8 L1237.8 199.3 L1238.8 185.0 L1240.4 147.2 L1241.7 121.8 L1243.7 112.0 L1244.7 110.1 L1245.4 127.6 L1245.8 170.0 L1246.0 223.7 L1247.0 189.5 L1248.6 185.0 L1249.5 131.0 L1250.5 72.4 L1251.1 33.4 L1252.9 33.4 L1253.6 72.4 L1254.4 131.0 L1255.0 189.5 L1255.4 240.3 L1256.8 234.4 L1257.9 209.0 L1259.3 185.6 L1260.7 180.3 L1261.8 195.4 L1263.2 207.1 L1264.6 205.1 L1265.7 232.5 L1267.5 233.4 L1268.5 199.3 L1269.6 173.5 L1270.6 199.3 L1272.0 228.6 L1273.0 241.2 L1275.5 241.2 L1276.9 232.5 L1278.2 228.6 L1280.2 229.5 L1281.7 226.6 L1283.3 228.6 L1284.3 189.5 L1285.1 159.8 L1285.8 209.0 L1286.2 238.3 L1287.2 209.0 L1288.6 170.0 L1289.6 144.2 L1290.5 179.8 L1291.9 206.1 L1293.5 218.8 L1295.0 248.1 L1297.7 248.1 L1299.3 234.4 L1300.9 221.7 L1302.2 219.8 L1303.6 199.3 L1306.1 198.9 L1308.1 199.3 L1309.5 194.4 L1310.6 218.8 L1312.0 241.2 L1313.0 209.0 L1313.4 144.2 L1314.5 170.0 L1315.9 188.5 L1316.9 189.5 L1317.9 170.0 L1319.2 143.3 L1321.2 140.7 L1322.7 135.4 L1323.7 121.2 L1324.7 96.4 L1325.5 150.5 L1326.2 199.3 L1327.6 189.5 L1329.0 195.4 L1330.5 209.0 L1332.1 232.5 L1333.5 209.0 L1334.8 189.5 L1336.4 188.5 L1338.0 187.6 L1338.7 195.4 L1339.5 150.5 L1339.9 131.5 L1340.7 170.0 L1341.5 204.2 L1342.6 189.5 L1343.4 164.1 L1344.2 158.9 L1345.2 170.0 L1346.2 150.5 L1346.7 136.4 L1347.7 160.2 L1348.5 189.5 L1349.1 228.6 L1349.7 267.6 L1350.5 282.2 L1352.0 283.2 L1353.2 287.1 L1354.9 283.2 L1355.9 291.0 L1357.5 304.3 L1359.4 303.7 L1360.8 294.9 L1362.8 294.0 L1365.3 294.0 L1367.6 293.0 L1369.2 294.9 L1370.0 284.2 L1371.1 281.7 L1372.1 294.9 L1373.5 301.2 L1375.4 301.8 L1378.4 304.7 L1380.3 302.7 L1383.2 302.3 L1386.2 301.2 L1388.7 295.9 L1391.1 294.9 L1393.4 293.4 L1395.9 296.9 L1397.3 285.2 L1398.5 294.9 L1399.8 299.8 L1401.2 300.4 L1402.8 287.1 L1403.7 286.1 L1405.1 306.6 L1407.6 306.2 L1409.6 304.7 L1411.5 296.9 L1412.9 287.1 L1414.1 271.5 L1415.1 271.1 L1416.0 283.2 L1417.4 294.9 L1418.8 293.0 L1420.3 292.0 L1421.9 296.9 L1423.3 294.9 L1424.2 306.6 L1425.2 314.1 L1427.2 313.5 L1429.7 309.0 L1433.0 308.2 L1436.9 308.2 L1439.9 308.2 L1441.8 309.6 L1443.8 312.1 L1445.7 310.5 L1447.7 314.4 L1449.2 315.4 L1450.0 309.6 L1450.8 316.4 L1452.5 316.8 L1455.5 316.4 L1458.4 315.4 L1461.3 315.4 L1464.3 316.0 L1467.2 317.2 L1473.0 317.4 L1482.8 317.4 L1490.0 317.6 L1491.7 317.4 L1503.4 317.0 L1511.2 316.4 L1519.0 316.8 L1530.8 317.2 L1544.4 316.8 L1558.1 316.4 L1567.8 317.2 L1577.6 316.8 L1579.6 316.0 L1580.9 312.1 L1582.1 310.9 L1583.5 316.4 L1586.4 317.4 L1597.1 317.6 L1606.9 317.4 L1610.4 316.0 L1611.4 296.9 L1612.3 263.7 L1613.3 264.7 L1614.3 287.1 L1615.1 294.9 L1616.2 296.9 L1617.6 300.4 L1619.6 301.2 L1620.5 306.6 L1621.5 312.9 L1624.4 313.5 L1628.4 313.7 L1633.2 314.4 L1638.1 315.2 L1642.0 314.8 L1644.4 314.1 L1645.5 296.9 L1646.5 279.3 L1647.5 279.7 L1648.3 302.7 L1649.0 313.5 L1652.8 313.5 L1656.7 313.5 L1658.0 310.5 L1659.6 307.6 L1661.5 306.2 L1663.5 305.7 L1665.4 306.1 L1667.0 310.5 L1670.3 310.9 L1675.2 311.1 L1681.1 310.9 L1684.0 310.2 L1685.3 308.6 L1686.9 309.6 L1689.8 310.5 L1693.7 310.5 L1695.1 306.6 L1696.1 287.1 L1696.9 286.7 L1697.6 306.6 L1698.6 311.5 L1704.5 311.3 L1710.3 311.1 L1716.2 311.1 L1720.1 310.9 L1721.1 304.7 L1722.0 302.7 L1723.0 309.6 L1725.9 310.5 L1731.8 310.5 L1737.3 310.5 L1738.4 304.7 L1739.4 303.7 L1740.4 310.2 L1743.5 310.5 L1745.9 310.2 L1746.8 296.9 L1747.8 289.5 L1748.8 290.0 L1749.6 304.7 L1750.5 310.9 L1753.3 312.1 L1755.2 312.9 L1758.2 312.1 L1762.1 311.5 L1766.0 310.9 L1768.5 310.2 L1769.5 304.7 L1770.5 304.3 L1771.4 309.6 L1774.7 310.5 L1780.0 310.5 L1780.7 310.5 L1785.6 310.5 L1787.2 310.1 L1787.6 267.6 L1788.1 241.2 L1788.9 257.8 L1789.9 285.1 L1791.1 281.2 L1792.1 291.0 L1793.0 294.9 L1793.8 287.1 L1795.4 286.7 L1796.5 289.0 L1797.7 302.7 L1799.3 309.5 L1800.8 310.1 L1802.2 308.2 L1805.1 307.6 L1808.1 308.2 L1810.0 308.6 L1812.0 304.7 L1813.9 300.8 L1815.9 297.8 L1818.8 297.2 L1821.1 297.8 L1822.3 287.1 L1823.5 271.5 L1824.4 262.7 L1825.2 287.1 L1826.2 298.8 L1827.6 299.2 L1828.5 294.9 L1829.5 267.6 L1830.3 228.5 L1831.1 211.0 L1832.1 208.1 L1833.0 216.8 L1834.0 238.3 L1835.0 257.8 L1836.0 275.4 L1837.3 281.6 L1839.3 282.2 L1841.8 281.6 L1843.2 283.2 L1844.6 291.0 L1845.7 302.7 L1847.1 307.6 L1849.0 309.0 L1851.0 308.6 L1852.4 302.7 L1853.9 300.4 L1855.9 298.8 L1857.4 297.8 L1858.8 304.7 L1860.2 309.0 L1860.9 306.6 L1861.7 228.5 L1862.5 176.8 L1863.3 176.4 L1864.1 218.8 L1864.8 257.8 L1865.6 267.6 L1866.6 265.2 L1867.6 271.5 L1868.2 296.9 L1869.1 307.6 L1870.5 304.7 L1871.9 300.8 L1873.4 299.8 L1875.0 304.7 L1876.9 306.6 L1878.3 308.2 L1879.7 305.6 L1882.2 305.1 L1885.1 305.6 L1887.1 306.6 L1888.7 304.7 L1890.0 294.9 L1891.4 291.0 L1892.6 287.1 L1893.5 281.2 L1894.5 294.9 L1895.7 304.7 L1896.9 298.8 L1898.4 297.8 L1900.4 297.2 L1902.3 296.5 L1903.7 291.0 L1904.7 267.6 L1905.6 252.0 L1906.6 246.1 L1907.6 250.0 L1908.6 248.1 L1909.5 255.9 L1910.9 256.8 L1912.1 259.8 L1913.1 271.5 L1914.0 277.3 L1914.8 278.9 L1916.0 275.4 L1917.3 257.8 L1918.7 238.3 L1919.9 220.7 L1920.9 199.3 L1921.8 181.7 L1923.2 179.4 L1924.6 178.8 L1925.7 181.7 L1926.7 199.3 L1927.7 189.5 L1928.7 170.0 L1929.8 150.5 L1931.5 160.4 L1933.0 140.7 L1934.2 120.8 L1935.1 170.0 L1935.7 228.5 L1936.1 267.6 L1936.5 285.1 L1937.8 288.1 L1939.8 291.0 L1941.7 293.3 L1943.1 293.0 L1944.1 278.3 L1944.9 287.1 L1946.0 294.9 L1947.2 296.9 L1948.2 294.9 L1949.2 277.3 L1950.1 261.7 L1951.1 257.8 L1952.5 261.7 L1953.5 265.6 L1954.4 248.1 L1955.2 237.9 L1956.0 267.6 L1957.0 255.9 L1957.7 253.9 L1958.7 271.5 L1959.7 248.1 L1960.5 209.0 L1961.1 170.0 L1961.7 137.8 L1963.0 150.5 L1964.2 154.2 L1965.0 179.8 L1965.7 209.0 L1966.3 242.2 L1967.5 243.8 L1968.7 248.1 L1969.8 257.8 L1970.6 279.3 L1971.6 296.9 L1972.6 310.5 L1973.4 318.7" stroke="#ff0000"/>
</g>
<rect x="1162.2" y="37.5" width="849.3" height="281.4" fill="none" stroke="#000" stroke-width="1.11"/>
<path d="M1201.0 318.9v4.86M1311.3 318.9v4.86M1421.6 318.9v4.86M1531.9 318.9v4.86M1642.2 318.9v4.86M1752.5 318.9v4.86M1862.8 318.9v4.86M1973.1 318.9v4.86M1162.2 318.9h-4.86M1162.2 262.6h-4.86M1162.2 206.3h-4.86M1162.2 150.1h-4.86M1162.2 93.8h-4.86M1162.2 37.5h-4.86" stroke="#000" stroke-width="1.11" fill="none"/>
<g font-family='"DejaVu Sans", "Liberation Sans", sans-serif' font-size="15.28" fill="#000" stroke="#000" stroke-width="0.25">
<text transform="translate(1201.7 341.2)" font-size="15" text-anchor="middle">27.8</text>
<text transform="translate(1312.0 341.2)" font-size="15" text-anchor="middle">27.9</text>
<text transform="translate(1422.3 341.2)" font-size="15" text-anchor="middle">28.0</text>
<text transform="translate(1532.6 341.2)" font-size="15" text-anchor="middle">28.1</text>
<text transform="translate(1642.9 341.2)" font-size="15" text-anchor="middle">28.2</text>
<text transform="translate(1753.2 341.2)" font-size="15" text-anchor="middle">28.3</text>
<text transform="translate(1863.5 341.2)" font-size="15" text-anchor="middle">28.4</text>
<text transform="translate(1973.8 341.2)" font-size="15" text-anchor="middle">28.5</text>
<text transform="translate(1153.6 324.9)" font-size="15" text-anchor="end">0</text>
<text transform="translate(1153.6 268.6)" font-size="15" text-anchor="end">20000</text>
<text transform="translate(1153.6 212.3)" font-size="15" text-anchor="end">40000</text>
<text transform="translate(1153.6 156.1)" font-size="15" text-anchor="end">60000</text>
<text transform="translate(1153.6 99.8)" font-size="15" text-anchor="end">80000</text>
<text transform="translate(1153.6 43.5)" font-size="15" text-anchor="end">100000</text>
<rect x="1621.2" y="45.3" width="382.4" height="49.3" rx="3" ry="3" fill="#fff" fill-opacity="0.8" stroke="#ccc" stroke-opacity="0.8" stroke-width="1.39"/>
<path d="M1626.2 57.5h32.5" stroke="#0000ff" stroke-width="2.08"/>
<path d="M1626.2 79.7h32.5" stroke="#ff0000" stroke-width="2.08"/>
<text transform="translate(1670.1 63.3) scale(1 0.99)" font-size="15.2">All samples</text>
<text transform="translate(1670.1 85.5) scale(1 0.99)" font-size="15.2">Haplotypes with rs62008729 derived allele</text>
</g>
<text transform="translate(1544.5 24.3) scale(1 1.02)" font-family='"Liberation Sans", "DejaVu Sans", sans-serif' font-size="33.9" font-weight="bold" font-style="italic" stroke="#000" stroke-width="0.5">HERC2</text>
<text x="1454.5" y="378.1" font-family='"Liberation Sans", "DejaVu Sans", sans-serif' font-size="25" stroke="#000" stroke-width="0.5">Genomic coordinates (Mb)</text>
<text transform="translate(1060.2 205.3) rotate(-90)" text-anchor="middle" font-family='"Liberation Sans", "DejaVu Sans", sans-serif' font-size="25" stroke="#000" stroke-width="0.5">Average pairwise TMRCA</text>
<text transform="translate(1089.0 205.3) rotate(-90)" text-anchor="middle" font-family='"Liberation Sans", "DejaVu Sans", sans-serif' font-size="25" stroke="#000" stroke-width="0.5">(generations)</text>
<clipPath id="c2"><rect x="137.5" y="449.3" width="850.0" height="281.4"/></clipPath>
<g clip-path="url(#c2)" fill="none" stroke-width="2.08" stroke-linejoin="round" stroke-linecap="butt">
<path d="M176.6 730.6 L177.5 683.8 L179.1 693.9 L181.1 692.9 L183.1 694.9 L186.1 686.8 L188.1 682.8 L189.5 681.8 L191.2 687.8 L192.6 663.7 L193.8 659.6 L195.2 667.7 L196.6 653.6 L198.2 626.4 L199.4 655.6 L200.6 589.1 L201.8 655.6 L203.2 661.6 L205.3 662.6 L207.3 655.6 L208.7 645.5 L210.3 645.5 L211.7 655.6 L213.3 684.8 L214.7 667.7 L215.9 648.5 L217.4 671.7 L219.4 667.7 L220.8 675.7 L222.0 706.0 L231.5 706.0 L232.9 700.9 L234.9 699.9 L236.9 687.8 L238.1 679.8 L239.5 690.9 L240.9 671.7 L242.9 639.5 L245.0 675.7 L246.6 671.7 L247.6 625.4 L248.6 597.2 L250.0 596.2 L251.2 625.4 L252.2 628.4 L253.6 659.6 L254.6 675.7 L256.6 679.8 L259.7 687.8 L261.7 695.9 L263.1 706.0 L266.7 706.0 L268.1 687.8 L269.1 647.5 L270.7 642.5 L272.4 638.5 L273.8 642.5 L275.2 686.8 L277.8 686.8 L279.2 657.6 L280.8 647.5 L282.2 655.6 L283.8 706.0 L285.9 707.0 L287.9 665.7 L288.9 683.8 L290.5 665.7 L291.9 681.8 L293.9 677.8 L295.9 660.6 L297.5 671.7 L299.4 699.9 L301.4 682.8 L303.4 693.9 L305.4 697.9 L307.4 693.9 L309.4 664.7 L311.0 662.6 L312.1 667.7 L313.5 627.4 L315.1 620.3 L317.1 597.2 L318.7 605.2 L320.1 656.6 L321.5 637.5 L323.1 651.6 L324.7 656.6 L326.4 649.6 L327.8 665.7 L329.2 686.8 L335.2 684.8 L337.6 688.8 L340.3 679.8 L341.9 661.6 L342.9 641.1 L344.3 675.7 L345.7 690.9 L347.3 674.7 L348.9 671.7 L350.9 667.7 L352.3 658.6 L353.8 667.7 L355.0 651.6 L356.4 591.1 L357.4 590.1 L359.0 648.5 L360.4 613.3 L361.8 613.7 L363.4 644.5 L365.0 625.4 L366.5 635.4 L367.9 650.6 L369.1 595.1 L370.1 587.1 L371.1 621.3 L372.5 674.7 L374.5 641.5 L376.1 619.7 L377.5 637.5 L379.1 661.6 L381.2 623.0 L382.6 655.6 L384.2 682.8 L386.0 684.8 L388.0 679.8 L389.6 656.6 L391.2 665.7 L393.3 665.7 L394.7 647.5 L396.7 650.6 L398.7 634.4 L400.7 635.4 L402.7 649.6 L404.7 653.6 L407.4 658.6 L409.8 648.5 L411.8 655.6 L414.8 670.7 L416.8 613.3 L418.4 605.2 L420.3 601.6 L421.5 661.6 L425.9 661.6 L427.5 635.4 L428.9 615.3 L430.3 631.4 L431.9 635.4 L433.6 655.6 L434.6 676.8 L436.0 618.3 L438.0 632.4 L440.0 632.4 L443.0 601.2 L445.6 632.4 L448.1 606.2 L450.1 635.4 L452.1 679.8 L454.1 679.8 L455.7 670.7 L457.1 666.7 L458.5 687.8 L460.1 692.9 L463.2 692.9 L466.2 689.8 L467.8 677.8 L469.2 681.8 L470.0 701.9 L470.1 701.9 L472.5 702.9 L474.5 704.0 L477.1 707.0 L480.1 705.0 L481.8 701.9 L483.2 691.9 L484.6 682.8 L486.2 681.8 L487.8 649.6 L489.4 635.4 L490.6 679.8 L491.8 704.0 L493.2 693.9 L495.3 691.9 L496.7 677.8 L498.7 673.7 L499.9 655.6 L500.9 641.5 L502.3 667.7 L503.9 681.8 L505.3 669.7 L506.7 657.6 L508.4 657.6 L509.8 671.7 L511.4 655.6 L512.4 647.5 L514.0 673.7 L516.0 694.9 L517.4 675.7 L518.8 661.6 L520.4 673.7 L522.1 663.7 L523.1 647.5 L524.1 636.5 L525.5 657.6 L527.1 658.6 L528.5 675.7 L530.1 649.6 L531.5 677.8 L532.9 695.9 L534.6 702.9 L536.2 691.9 L537.6 677.8 L539.0 677.8 L540.2 686.8 L541.6 693.9 L543.6 690.9 L545.6 689.8 L547.6 687.8 L549.7 675.7 L551.1 671.7 L552.7 675.7 L554.3 693.9 L556.3 699.9 L557.7 699.9 L559.7 694.9 L561.8 687.8 L563.2 679.8 L564.8 674.7 L566.4 679.8 L567.8 685.8 L569.8 684.8 L571.8 685.8 L573.2 686.8 L575.3 679.8 L576.9 675.7 L578.5 663.7 L580.3 652.6 L581.9 669.7 L583.9 675.7 L585.9 684.8 L587.3 695.9 L589.0 699.9 L590.6 695.9 L592.0 683.8 L593.4 679.8 L595.0 675.7 L596.6 680.8 L597.6 675.7 L598.6 627.4 L599.4 626.4 L601.0 605.2 L602.7 585.1 L603.9 573.0 L605.5 571.6 L607.1 573.0 L608.7 595.1 L610.1 623.4 L611.5 641.5 L612.7 647.5 L614.1 615.3 L615.6 612.3 L616.8 621.3 L618.2 655.6 L619.2 677.8 L620.2 678.8 L621.6 651.6 L622.8 655.6 L624.2 680.8 L625.6 681.8 L626.8 645.5 L628.2 621.3 L630.3 623.4 L632.3 633.4 L633.7 655.6 L634.5 664.7 L635.7 615.3 L636.9 586.1 L638.3 619.3 L640.3 620.3 L642.3 622.4 L643.8 620.3 L645.0 605.2 L647.0 600.2 L647.6 579.0 L648.2 560.5 L649.4 561.9 L650.4 562.9 L651.4 575.0 L653.0 587.1 L654.4 615.3 L655.8 620.3 L657.5 625.4 L658.5 595.1 L659.5 589.1 L660.7 575.0 L661.7 544.8 L662.4 536.7 L663.1 544.8 L664.1 575.0 L664.7 615.3 L665.5 647.5 L667.5 648.5 L668.9 641.5 L670.0 613.3 L671.2 641.5 L672.6 639.5 L674.0 605.2 L675.6 583.7 L676.6 615.3 L678.0 661.6 L680.6 661.6 L681.6 625.4 L683.3 599.6 L685.7 600.8 L687.7 604.2 L689.3 594.3 L690.7 615.3 L692.1 655.6 L693.3 668.7 L694.7 668.7 L696.1 687.8 L697.8 692.9 L699.4 689.8 L700.8 669.7 L702.8 663.7 L704.8 664.7 L706.2 677.8 L707.4 675.7 L708.8 648.5 L709.8 675.7 L710.9 694.9 L712.9 699.9 L714.3 693.9 L715.5 677.8 L716.5 676.8 L717.9 706.0 L718.9 675.7 L719.9 641.5 L721.3 640.5 L722.3 657.6 L723.6 615.3 L724.6 600.2 L726.4 643.1 L727.6 643.1 L729.4 595.1 L730.6 588.1 L732.0 645.5 L733.6 663.7 L735.0 684.8 L736.4 694.9 L738.1 671.7 L739.7 665.7 L741.1 675.7 L743.1 683.8 L744.5 699.9 L746.1 716.0 L749.1 716.0 L750.6 708.0 L751.6 695.9 L753.6 677.7 L755.0 675.7 L756.4 687.8 L758.1 689.4 L760.1 684.8 L762.1 682.8 L763.7 665.7 L765.1 663.6 L766.5 667.7 L767.7 679.8 L769.7 680.8 L771.8 679.8 L773.8 676.7 L775.2 679.8 L775.8 651.6 L776.8 629.4 L778.2 627.0 L779.6 631.4 L780.6 655.6 L781.2 674.7 L783.2 684.8 L785.3 669.7 L786.7 684.8 L787.9 692.8 L789.9 693.9 L791.3 695.9 L792.7 705.9 L793.9 691.8 L795.3 707.0 L796.7 695.9 L798.3 687.8 L800.0 697.9 L801.4 694.9 L802.8 689.8 L804.0 675.7 L805.4 658.6 L807.4 658.0 L808.8 675.7 L810.0 693.9 L811.4 687.8 L812.9 664.6 L814.5 662.0 L815.5 677.7 L816.9 695.9 L818.5 699.9 L820.1 693.9 L821.5 686.8 L823.5 686.8 L825.5 688.8 L827.6 685.8 L829.6 684.8 L831.6 680.8 L833.6 669.7 L835.0 664.6 L836.6 661.6 L838.2 673.7 L840.2 675.7 L841.7 683.8 L843.1 692.8 L844.7 689.8 L846.3 680.8 L847.3 682.8 L848.7 699.9 L850.1 702.9 L851.7 690.8 L853.1 686.8 L854.8 686.8 L856.8 685.8 L858.4 665.7 L859.8 653.6 L861.2 663.6 L862.8 671.7 L864.4 687.8 L865.8 704.9 L866.8 705.9 L868.5 680.8 L870.9 681.8 L873.3 681.4 L874.9 677.7 L876.5 683.8 L877.9 699.9 L879.3 703.9 L880.9 703.9 L882.6 689.8 L884.0 675.7 L885.4 672.7 L887.0 673.7 L888.6 681.8 L890.0 684.8 L892.0 684.8 L894.6 685.8 L896.1 691.8 L897.5 695.9 L899.1 701.3 L900.7 691.8 L902.1 683.8 L903.5 675.7 L905.1 673.7 L907.1 674.7 L908.7 663.6 L909.5 641.5 L910.6 655.6 L911.6 681.2 L913.2 669.7 L914.8 664.6 L916.8 662.6 L918.8 663.6 L920.2 661.6 L921.2 635.4 L922.0 605.2 L923.0 482.3 L924.3 591.1 L925.7 619.3 L926.9 635.4 L927.7 617.3 L928.5 645.5 L929.7 618.3 L931.3 620.3 L932.3 635.4 L933.7 646.5 L934.9 647.5 L935.7 615.3 L936.3 585.1 L936.9 569.2 L937.8 595.1 L938.4 635.4 L939.0 683.8 L940.4 675.7 L941.8 663.6 L943.0 645.5 L944.0 625.4 L944.8 621.7 L945.8 655.6 L947.0 691.8 L948.4 716.0 L949.4 730.5" stroke="#0000ff"/>
<path d="M176.6 730.6 L177.1 687.8 L178.1 700.9 L179.7 697.9 L181.7 698.9 L183.1 695.9 L185.1 693.9 L187.1 689.8 L189.1 687.8 L191.2 688.8 L192.6 669.7 L193.8 666.7 L195.2 668.7 L196.6 653.6 L198.2 627.4 L199.4 655.6 L200.6 589.1 L201.8 655.6 L203.2 661.6 L205.3 662.6 L207.3 655.6 L208.7 645.5 L210.3 645.5 L211.7 655.6 L213.3 684.8 L214.7 667.7 L215.9 648.5 L217.4 671.7 L219.4 667.7 L220.8 675.7 L222.0 706.0 L231.5 706.0 L232.9 700.9 L234.9 699.9 L236.9 687.8 L238.1 679.8 L239.5 689.8 L240.9 671.7 L242.9 639.5 L245.0 675.7 L246.6 671.7 L247.6 625.4 L248.6 597.2 L250.0 596.2 L251.2 625.4 L252.2 628.4 L253.6 659.6 L254.6 675.7 L256.6 679.8 L259.7 687.8 L261.7 695.9 L263.1 706.0 L266.7 706.0 L268.1 687.8 L269.1 649.6 L270.7 644.5 L272.4 641.5 L273.8 644.5 L275.2 686.8 L277.8 686.8 L279.2 659.6 L280.8 649.6 L282.2 655.6 L283.8 706.0 L285.9 707.0 L287.9 665.7 L288.9 683.8 L290.5 667.7 L291.9 681.8 L293.9 677.8 L295.9 661.6 L297.5 671.7 L299.4 699.9 L301.4 684.8 L303.4 693.9 L305.4 697.9 L307.4 693.9 L309.4 664.7 L311.0 662.6 L312.1 667.7 L313.5 627.4 L315.1 621.3 L317.1 600.2 L318.7 605.2 L320.1 656.6 L321.5 641.5 L323.1 651.6 L324.7 656.6 L326.4 650.6 L327.8 665.7 L329.2 686.8 L335.2 685.8 L337.6 688.8 L340.3 679.8 L341.9 661.6 L342.9 642.5 L344.3 675.7 L345.7 690.9 L347.3 675.7 L348.9 671.7 L350.9 667.7 L352.3 658.6 L353.8 667.7 L355.0 651.6 L356.4 615.3 L357.4 615.3 L359.0 648.5 L360.4 615.3 L361.8 616.3 L363.4 644.5 L365.0 626.4 L366.5 635.4 L367.9 650.6 L369.1 595.1 L370.1 588.1 L371.1 621.3 L372.5 674.7 L374.5 641.5 L376.1 621.3 L377.5 637.5 L379.1 661.6 L381.2 623.4 L382.6 655.6 L384.2 682.8 L386.0 684.8 L388.0 679.8 L389.6 656.6 L391.2 665.7 L393.3 665.7 L394.7 647.5 L396.7 650.6 L398.7 635.4 L400.7 635.4 L402.7 649.6 L404.7 652.6 L407.4 657.6 L409.8 648.5 L411.8 655.6 L414.8 670.7 L416.8 613.3 L418.4 605.2 L420.3 602.2 L421.5 661.6 L425.9 661.6 L427.5 635.4 L428.9 617.3 L430.3 631.4 L431.9 635.4 L433.6 655.6 L434.6 676.8 L436.0 641.5 L437.6 661.6 L439.6 662.6 L441.4 642.5 L443.0 640.5 L444.4 649.6 L446.0 662.6 L447.7 645.5 L449.1 643.5 L450.5 673.7 L451.7 693.9 L453.7 695.9 L455.1 690.9 L457.1 692.9 L458.5 716.0 L460.1 719.1 L464.2 720.1 L467.2 719.1 L470.0 721.1 L470.1 721.7 L474.1 723.1 L480.1 723.1 L483.2 721.7 L485.2 721.7 L487.2 718.1 L488.8 717.7 L490.2 721.1 L493.2 721.7 L496.3 723.7 L500.3 724.5 L516.4 724.5 L518.4 723.1 L519.8 721.7 L521.5 723.7 L524.5 724.5 L530.5 724.5 L532.1 719.1 L533.5 719.7 L535.6 720.5 L538.6 720.5 L540.6 719.7 L542.6 721.1 L544.6 723.1 L546.6 724.5 L554.7 724.5 L556.7 723.1 L558.1 722.1 L559.7 723.1 L562.8 723.7 L569.8 723.7 L572.4 721.1 L573.8 718.5 L575.3 721.1 L577.9 721.1 L579.9 722.5 L582.9 723.1 L586.9 723.1 L590.0 721.7 L592.0 721.7 L594.0 720.5 L596.0 719.1 L597.4 716.0 L598.2 706.0 L598.6 655.6 L599.4 635.4 L601.0 605.2 L602.7 585.1 L603.9 573.0 L605.5 571.6 L607.1 573.0 L608.7 595.1 L610.1 623.4 L611.5 641.5 L612.7 647.5 L614.1 615.3 L615.6 612.3 L616.8 621.3 L618.2 655.6 L619.2 677.8 L620.2 678.8 L621.6 651.6 L622.8 655.6 L624.2 680.8 L625.6 681.8 L626.8 645.5 L628.2 621.3 L630.3 623.4 L632.3 633.4 L633.7 655.6 L634.5 664.7 L635.7 615.3 L636.9 586.1 L638.3 619.3 L640.3 620.3 L642.3 622.4 L643.8 620.3 L645.0 605.2 L647.0 600.2 L647.6 579.0 L648.2 560.5 L649.4 561.9 L650.4 562.9 L651.4 575.0 L653.0 587.1 L654.4 615.3 L655.8 620.3 L657.5 625.4 L658.5 595.1 L659.5 589.1 L660.7 575.0 L661.7 544.8 L662.4 536.7 L663.1 544.8 L664.1 575.0 L664.7 615.3 L665.5 647.5 L667.5 648.5 L668.9 641.5 L670.0 618.3 L671.2 641.5 L672.6 639.5 L674.0 605.2 L675.6 585.1 L676.6 615.3 L678.0 661.6 L680.6 661.6 L681.6 625.4 L683.3 601.2 L685.7 603.2 L687.7 604.2 L689.3 596.2 L690.7 615.3 L692.1 655.6 L693.3 668.7 L694.7 668.7 L696.1 687.8 L697.8 692.9 L699.4 689.8 L700.8 669.7 L702.8 663.7 L704.8 664.7 L706.2 677.8 L707.4 675.7 L708.8 648.5 L709.8 675.7 L710.9 694.9 L712.9 699.9 L714.3 693.9 L715.5 677.8 L716.5 676.8 L717.9 706.0 L718.9 675.7 L719.9 641.5 L721.3 640.5 L722.3 657.6 L723.6 615.3 L724.6 600.2 L726.0 641.5 L728.0 641.5 L729.4 595.1 L730.6 588.1 L732.0 645.5 L733.6 663.7 L735.0 684.8 L736.4 694.9 L738.1 671.7 L739.7 665.7 L741.1 675.7 L743.1 683.8 L744.5 699.9 L746.1 716.0 L749.1 716.0 L750.6 708.0 L751.6 695.9 L753.6 677.7 L755.0 675.7 L756.4 684.8 L758.1 686.8 L760.1 684.8 L762.1 682.8 L763.7 665.7 L765.1 663.6 L766.5 664.6 L767.7 675.7 L769.7 674.7 L771.8 673.7 L773.2 670.7 L774.6 673.7 L775.8 651.6 L776.8 629.4 L778.2 627.0 L779.6 631.4 L780.6 655.6 L781.8 671.7 L783.2 681.8 L784.6 675.7 L786.3 686.8 L787.9 692.8 L789.9 693.9 L791.3 695.9 L792.7 705.9 L793.9 691.8 L795.3 707.0 L796.7 695.9 L798.3 687.8 L800.0 697.9 L801.4 694.9 L802.8 689.8 L804.0 675.7 L805.4 663.6 L807.4 665.7 L808.8 675.7 L810.0 693.9 L811.4 687.8 L812.9 671.7 L814.5 669.7 L815.5 677.7 L816.9 695.9 L818.5 699.9 L820.1 693.9 L821.5 689.8 L823.5 689.8 L825.5 688.8 L827.6 685.8 L829.6 684.8 L831.6 680.8 L833.6 677.7 L835.0 671.7 L836.6 666.7 L838.2 675.7 L839.6 677.7 L841.7 683.8 L843.1 692.8 L844.7 689.8 L846.3 683.8 L847.3 682.8 L848.7 699.9 L850.1 702.9 L851.7 690.8 L853.1 686.8 L854.8 686.8 L856.8 685.8 L858.4 665.7 L859.8 658.6 L861.2 663.6 L862.8 671.7 L864.4 687.8 L865.8 704.9 L866.8 705.9 L868.5 686.8 L870.9 686.8 L873.3 685.8 L874.9 684.8 L876.5 687.8 L877.9 699.9 L879.3 703.9 L880.9 703.9 L882.6 689.8 L884.0 675.7 L885.4 672.7 L887.0 673.7 L888.6 681.8 L890.0 684.8 L892.0 684.8 L894.6 685.8 L896.1 691.8 L897.5 695.9 L899.1 699.9 L900.7 691.8 L902.1 683.8 L903.5 675.7 L905.1 673.7 L907.1 674.7 L908.7 663.6 L909.5 641.5 L910.6 655.6 L911.6 679.8 L913.2 669.7 L914.8 664.6 L916.8 662.6 L918.8 663.6 L920.2 661.6 L921.2 635.4 L922.0 605.2 L923.0 482.3 L924.3 591.1 L925.7 619.3 L926.9 635.4 L927.7 617.3 L928.5 645.5 L929.7 618.3 L931.3 620.3 L932.3 635.4 L933.7 646.5 L934.9 647.5 L935.7 615.3 L936.3 585.1 L936.9 569.2 L937.8 595.1 L938.4 635.4 L939.0 683.8 L940.4 675.7 L941.8 663.6 L943.0 645.5 L944.0 625.4 L944.8 621.7 L945.8 655.6 L947.0 691.8 L948.4 716.0 L949.4 730.5" stroke="#ff0000"/>
</g>
<rect x="137.5" y="449.3" width="850.0" height="281.4" fill="none" stroke="#000" stroke-width="1.11"/>
<path d="M177.0 730.7v4.86M305.6 730.7v4.86M434.2 730.7v4.86M562.9 730.7v4.86M691.5 730.7v4.86M820.1 730.7v4.86M948.7 730.7v4.86M137.5 730.7h-4.86M137.5 693.3h-4.86M137.5 655.9h-4.86M137.5 618.5h-4.86M137.5 581.1h-4.86M137.5 543.7h-4.86M137.5 506.3h-4.86M137.5 468.9h-4.86" stroke="#000" stroke-width="1.11" fill="none"/>
<g font-family='"DejaVu Sans", "Liberation Sans", sans-serif' font-size="15.28" fill="#000" stroke="#000" stroke-width="0.25">
<text transform="translate(177.7 753.0)" font-size="15" text-anchor="middle">71.2</text>
<text transform="translate(306.3 753.0)" font-size="15" text-anchor="middle">71.3</text>
<text transform="translate(434.9 753.0)" font-size="15" text-anchor="middle">71.4</text>
<text transform="translate(563.6 753.0)" font-size="15" text-anchor="middle">71.5</text>
<text transform="translate(692.2 753.0)" font-size="15" text-anchor="middle">71.6</text>
<text transform="translate(820.8 753.0)" font-size="15" text-anchor="middle">71.7</text>
<text transform="translate(949.4 753.0)" font-size="15" text-anchor="middle">71.8</text>
<text transform="translate(128.9 736.7)" font-size="15" text-anchor="end">0</text>
<text transform="translate(128.9 699.3)" font-size="15" text-anchor="end">20000</text>
<text transform="translate(128.9 661.9)" font-size="15" text-anchor="end">40000</text>
<text transform="translate(128.9 624.5)" font-size="15" text-anchor="end">60000</text>
<text transform="translate(128.9 587.1)" font-size="15" text-anchor="end">80000</text>
<text transform="translate(128.9 549.7)" font-size="15" text-anchor="end">100000</text>
<text transform="translate(128.9 512.3)" font-size="15" text-anchor="end">120000</text>
<text transform="translate(128.9 474.9)" font-size="15" text-anchor="end">140000</text>
<rect x="606.7" y="457.2" width="372.7" height="49.2" rx="3" ry="3" fill="#fff" fill-opacity="0.8" stroke="#ccc" stroke-opacity="0.8" stroke-width="1.39"/>
<path d="M611.7 469.4h32.5" stroke="#0000ff" stroke-width="2.08"/>
<path d="M611.7 491.6h32.5" stroke="#ff0000" stroke-width="2.08"/>
<text transform="translate(655.6 475.2) scale(1 0.99)" font-size="15.2">All samples</text>
<text transform="translate(655.6 497.4) scale(1 0.99)" font-size="15.2">Haplotypes with rs7944926 derived allele</text>
</g>
<text transform="translate(501.8 432.4) scale(1 1.02)" font-family='"Liberation Sans", "DejaVu Sans", sans-serif' font-size="33.9" font-weight="bold" font-style="italic" stroke="#000" stroke-width="0.5">DHCR7</text>
<text x="379.2" y="789.2" font-family='"Liberation Sans", "DejaVu Sans", sans-serif' font-size="25" stroke="#000" stroke-width="0.5">Genomic coordinates (Mb)</text>
<text transform="translate(19.1 614.9) rotate(-90)" text-anchor="middle" font-family='"Liberation Sans", "DejaVu Sans", sans-serif' font-size="25" stroke="#000" stroke-width="0.5">Average pairwise TMRCA</text>
<text transform="translate(47.9 614.9) rotate(-90)" text-anchor="middle" font-family='"Liberation Sans", "DejaVu Sans", sans-serif' font-size="25" stroke="#000" stroke-width="0.5">(generations)</text>
<clipPath id="c3"><rect x="1162.2" y="449.3" width="849.3" height="281.4"/></clipPath>
<g clip-path="url(#c3)" fill="none" stroke-width="2.08" stroke-linejoin="round" stroke-linecap="butt">
<path d="M1160.0 716.0 L1161.6 708.0 L1163.0 696.9 L1165.0 695.9 L1167.7 696.3 L1169.1 704.0 L1170.1 709.0 L1171.7 712.0 L1173.7 714.0 L1175.7 715.0 L1177.1 714.0 L1178.5 718.5 L1180.1 720.1 L1182.2 721.7 L1183.8 722.1 L1185.2 717.1 L1187.2 715.6 L1189.2 714.4 L1192.2 714.0 L1193.9 714.4 L1194.7 704.0 L1195.5 689.8 L1196.7 688.2 L1198.3 689.4 L1199.5 695.9 L1200.7 710.4 L1202.3 716.0 L1203.9 710.4 L1205.9 710.4 L1207.4 709.6 L1208.8 706.0 L1210.4 707.0 L1211.6 706.0 L1212.8 704.0 L1214.0 705.0 L1216.0 710.4 L1218.0 716.4 L1219.4 722.1 L1221.5 723.1 L1223.5 721.7 L1225.5 723.1 L1227.5 723.7 L1230.5 723.1 L1232.9 723.1 L1234.6 720.1 L1236.2 723.7 L1238.2 724.1 L1239.6 718.5 L1241.0 717.5 L1243.0 718.1 L1245.6 717.5 L1247.6 715.6 L1249.1 717.7 L1250.3 720.5 L1252.3 718.5 L1254.7 719.5 L1256.7 720.1 L1258.7 718.9 L1260.1 716.0 L1261.1 687.8 L1262.2 673.7 L1263.2 708.0 L1264.0 709.0 L1264.8 675.7 L1265.8 646.5 L1266.8 629.4 L1268.8 627.8 L1270.4 629.4 L1271.8 655.6 L1272.4 691.9 L1273.2 710.4 L1274.8 716.0 L1276.1 714.0 L1277.3 707.0 L1278.5 715.0 L1280.9 715.0 L1284.9 715.0 L1289.0 714.4 L1292.0 713.0 L1294.6 711.0 L1297.0 714.0 L1298.6 716.0 L1300.6 713.0 L1303.1 714.0 L1305.5 715.0 L1308.1 717.7 L1310.7 716.0 L1312.1 715.6 L1314.1 711.0 L1316.2 710.4 L1319.2 710.4 L1320.8 715.0 L1322.8 717.7 L1325.2 716.0 L1328.2 715.0 L1331.3 714.0 L1333.3 711.0 L1334.9 713.0 L1336.3 709.0 L1338.3 708.0 L1339.7 712.0 L1341.7 716.0 L1344.4 715.0 L1347.4 714.0 L1349.0 714.0 L1349.8 704.0 L1351.4 697.9 L1353.0 683.8 L1354.4 667.7 L1355.8 666.7 L1357.5 673.7 L1359.1 674.7 L1360.5 670.7 L1361.9 685.8 L1364.5 686.2 L1365.5 675.7 L1366.5 657.6 L1367.9 656.6 L1369.6 661.6 L1370.8 669.7 L1372.6 669.7 L1374.0 668.7 L1375.2 675.7 L1376.6 689.8 L1377.6 697.9 L1379.2 708.0 L1380.6 695.9 L1381.6 693.9 L1383.3 704.0 L1384.7 708.0 L1386.1 704.0 L1387.3 695.9 L1389.7 697.5 L1391.7 698.9 L1394.1 700.9 L1396.8 702.3 L1399.4 706.0 L1400.8 706.0 L1402.8 701.9 L1404.2 700.9 L1406.2 705.0 L1408.8 705.6 L1411.5 704.0 L1412.9 695.9 L1414.3 685.8 L1415.5 684.8 L1416.9 687.8 L1418.3 684.8 L1420.9 684.8 L1422.3 684.8 L1423.6 701.9 L1424.6 679.8 L1425.6 680.8 L1427.0 701.9 L1429.0 704.0 L1430.4 695.9 L1432.0 683.8 L1433.2 695.9 L1435.0 708.0 L1438.1 708.4 L1439.7 695.9 L1441.1 690.9 L1443.1 689.8 L1444.5 684.8 L1445.7 682.8 L1446.9 695.9 L1448.1 704.0 L1450.6 705.0 L1452.6 705.6 L1454.6 706.0 L1455.8 708.0 L1457.2 702.9 L1458.6 700.9 L1459.1 699.9 L1460.5 691.9 L1462.5 690.3 L1464.5 690.3 L1466.1 693.9 L1467.1 712.0 L1469.1 712.0 L1471.2 704.0 L1473.8 705.0 L1475.8 706.0 L1476.8 695.9 L1477.8 690.9 L1478.8 704.0 L1480.2 712.0 L1482.2 713.0 L1483.9 712.0 L1485.9 704.0 L1489.3 703.6 L1491.9 704.0 L1493.9 709.0 L1496.3 710.0 L1498.0 695.9 L1499.4 679.8 L1501.4 671.3 L1503.4 671.7 L1505.4 677.8 L1507.4 681.8 L1509.4 682.2 L1511.5 681.4 L1513.5 686.8 L1515.5 687.8 L1517.5 683.8 L1518.5 680.8 L1519.9 683.8 L1521.5 675.7 L1522.9 666.7 L1523.9 664.7 L1525.0 675.7 L1526.2 686.8 L1527.6 685.8 L1529.0 699.9 L1530.6 701.9 L1532.6 697.9 L1534.6 694.9 L1536.6 696.9 L1538.7 701.5 L1540.3 695.9 L1541.7 687.8 L1542.7 684.4 L1544.3 686.8 L1545.7 691.9 L1547.7 693.9 L1549.1 695.9 L1550.7 700.9 L1551.8 695.9 L1552.8 692.9 L1553.8 704.0 L1554.8 709.0 L1556.8 708.0 L1558.8 704.0 L1560.8 699.9 L1562.8 700.9 L1564.8 697.9 L1566.9 691.9 L1568.9 684.8 L1570.5 682.8 L1571.9 683.8 L1573.3 690.9 L1574.5 684.8 L1575.9 682.2 L1577.3 687.8 L1579.0 689.8 L1580.6 684.8 L1582.6 681.4 L1584.6 680.2 L1586.0 684.8 L1588.0 691.9 L1590.0 697.9 L1592.7 701.9 L1595.1 706.0 L1597.1 710.4 L1599.1 711.0 L1601.5 707.0 L1603.1 704.0 L1604.7 712.0 L1606.2 713.0 L1608.2 708.0 L1610.2 704.0 L1613.2 702.9 L1615.6 701.9 L1617.6 698.9 L1619.7 694.9 L1621.7 687.8 L1623.3 671.7 L1624.9 652.6 L1626.1 651.2 L1627.3 663.7 L1628.9 687.8 L1630.3 672.7 L1632.3 673.3 L1634.4 671.7 L1635.8 669.3 L1637.4 669.3 L1639.0 675.7 L1640.4 687.8 L1641.4 694.9 L1642.4 683.8 L1643.4 687.8 L1645.0 690.9 L1646.5 681.8 L1648.5 669.7 L1649.5 664.7 L1650.7 679.8 L1652.5 686.8 L1654.5 690.9 L1656.5 696.9 L1657.9 695.9 L1659.6 681.8 L1660.6 683.8 L1661.6 695.9 L1663.2 677.8 L1664.6 672.7 L1666.0 679.8 L1668.0 684.8 L1670.0 683.8 L1671.6 679.8 L1673.3 681.8 L1675.3 687.8 L1676.7 685.4 L1678.1 696.9 L1679.7 695.9 L1681.7 679.8 L1683.3 671.3 L1684.7 684.8 L1686.1 679.8 L1687.8 661.6 L1689.4 660.6 L1690.8 665.7 L1692.2 681.8 L1693.8 693.9 L1695.4 695.9 L1696.8 686.8 L1698.2 685.8 L1699.8 689.8 L1701.3 696.9 L1702.9 691.9 L1704.3 684.8 L1706.3 684.8 L1707.9 681.8 L1709.9 675.7 L1711.9 673.7 L1714.0 671.7 L1715.6 671.7 L1717.0 669.7 L1720.0 669.7 L1722.0 670.7 L1724.0 666.7 L1725.6 664.7 L1727.1 669.7 L1728.5 673.7 L1730.1 668.7 L1731.5 675.7 L1733.1 661.6 L1734.5 654.0 L1736.1 663.7 L1737.7 675.7 L1739.1 667.7 L1740.8 665.7 L1742.2 675.7 L1744.2 683.8 L1746.2 687.8 L1748.2 675.7 L1749.2 663.7 L1750.1 661.6 L1751.5 647.5 L1753.1 657.6 L1755.1 658.6 L1756.5 655.6 L1757.7 635.4 L1758.5 617.7 L1759.5 641.5 L1760.6 655.6 L1762.2 649.6 L1764.2 643.5 L1766.2 635.4 L1767.8 628.4 L1769.8 623.4 L1771.2 615.3 L1772.0 600.2 L1775.2 547.6 L1778.1 600.2 L1778.7 621.3 L1779.3 623.4 L1780.3 607.2 L1781.7 615.3 L1783.3 629.0 L1784.7 624.4 L1786.3 609.3 L1787.1 603.2 L1788.0 625.4 L1788.8 655.6 L1790.0 683.8 L1791.4 695.9 L1792.8 697.9 L1794.0 675.7 L1795.4 641.5 L1796.8 635.4 L1798.0 625.4 L1799.0 620.3 L1800.4 635.4 L1802.1 645.5 L1803.5 651.6 L1805.5 652.6 L1806.9 645.5 L1808.1 651.6 L1809.1 639.5 L1810.1 655.6 L1810.9 669.7 L1812.5 670.7 L1814.1 684.8 L1816.2 681.8 L1818.2 685.8 L1819.6 692.9 L1821.0 696.9 L1822.6 687.8 L1824.2 671.7 L1825.6 659.6 L1827.0 669.7 L1828.7 684.8 L1831.1 685.8 L1832.7 677.8 L1834.7 676.8 L1836.3 655.6 L1837.7 602.2 L1839.7 601.2 L1841.8 602.2 L1842.8 615.3 L1844.8 595.1 L1846.4 578.0 L1847.8 583.1 L1849.2 601.2 L1850.4 650.6 L1851.8 652.6 L1853.2 655.6 L1854.4 675.7 L1855.9 697.9 L1857.3 712.0 L1858.9 716.0 L1860.5 714.0 L1861.9 706.0 L1863.3 697.9 L1864.9 704.0 L1866.9 705.0 L1869.0 699.9 L1870.6 696.9 L1873.0 696.9 L1875.4 696.9 L1877.0 675.7 L1879.0 653.6 L1880.6 655.6 L1882.1 666.7 L1884.1 668.7 L1886.1 669.7 L1887.5 651.6 L1889.1 644.5 L1890.7 651.6 L1892.1 625.4 L1893.5 611.3 L1895.6 610.9 L1898.2 610.3 L1899.6 605.2 L1900.4 575.0 L1902.3 498.4 L1904.7 565.3 L1907.2 587.1 L1908.8 581.0 L1909.7 578.8 L1910.7 583.1 L1911.7 595.1 L1912.9 645.5 L1914.3 635.4 L1915.7 605.2 L1917.3 595.1 L1918.3 592.1 L1920.3 603.2 L1921.3 619.3 L1923.0 615.3 L1924.0 575.0 L1924.6 558.3 L1926.4 566.5 L1928.2 558.3 L1930.0 569.4 L1931.7 546.2 L1932.6 575.0 L1933.4 615.3 L1935.0 665.7 L1936.5 684.8 L1938.5 655.6 L1939.9 634.4 L1941.5 633.4 L1943.5 627.4 L1945.1 635.4 L1946.5 651.6 L1947.9 669.7 L1949.6 671.3 L1951.2 671.7 L1952.6 685.8 L1953.6 689.8 L1955.2 675.7 L1956.6 665.7 L1958.0 651.6 L1959.6 640.5 L1960.6 639.1 L1961.6 655.6 L1962.6 669.7 L1964.1 663.7 L1965.7 649.6 L1967.3 639.9 L1968.7 655.6 L1970.1 658.6 L1971.7 646.5 L1973.7 645.9 L1975.3 653.6 L1976.8 661.6 L1978.8 668.1 L1980.8 667.7 L1982.8 669.3 L1984.2 657.6 L1985.8 635.4 L1987.4 607.2 L1989.8 608.2 L1991.5 603.2 L1992.9 585.1 L1994.9 583.1 L1995.9 605.2 L1997.5 635.4 L1998.9 655.6 L2000.3 667.7 L2001.9 651.6 L2002.9 647.5 L2004.4 665.7 L2006.0 691.9 L2009.0 692.9 L2011.6 691.9 L2014.0 687.8" stroke="#0000ff"/>
<path d="M1160.0 714.0 L1161.6 704.0 L1163.0 687.8 L1165.0 686.8 L1167.7 686.8 L1169.1 691.9 L1170.1 704.0 L1171.7 708.0 L1173.7 710.4 L1175.7 712.0 L1177.1 711.0 L1178.5 716.0 L1180.1 718.5 L1182.2 720.5 L1183.8 721.1 L1185.2 716.0 L1187.2 715.0 L1189.2 714.0 L1192.2 713.6 L1193.9 714.0 L1194.7 704.0 L1195.5 688.8 L1196.7 687.8 L1198.3 688.8 L1199.5 695.9 L1200.7 710.0 L1202.3 715.0 L1203.9 708.0 L1205.9 707.6 L1207.4 708.0 L1208.8 700.9 L1209.8 699.5 L1211.0 704.0 L1212.4 701.9 L1214.0 704.0 L1216.0 710.0 L1218.0 716.0 L1219.4 722.1 L1221.5 723.1 L1223.5 721.7 L1225.5 723.1 L1227.5 723.7 L1230.5 723.1 L1232.9 723.1 L1234.6 719.7 L1236.2 723.7 L1238.2 724.1 L1239.6 718.1 L1241.0 717.1 L1243.0 717.7 L1245.6 717.1 L1247.6 715.0 L1249.1 717.1 L1250.3 720.1 L1252.3 718.1 L1254.7 719.1 L1256.7 719.7 L1258.7 718.5 L1260.1 716.0 L1261.1 691.9 L1262.2 675.7 L1263.2 708.0 L1264.0 709.0 L1264.8 675.7 L1265.8 645.5 L1266.8 624.4 L1268.8 623.4 L1270.8 624.0 L1271.8 655.6 L1272.4 691.9 L1273.2 710.0 L1274.8 708.0 L1276.5 709.0 L1277.9 712.0 L1280.9 713.6 L1283.3 712.0 L1285.3 710.4 L1287.9 709.6 L1291.0 709.6 L1294.0 708.0 L1297.0 709.0 L1299.0 710.0 L1301.0 702.9 L1303.1 706.0 L1305.1 708.0 L1308.1 708.4 L1310.7 712.0 L1312.1 715.0 L1313.5 710.0 L1314.7 707.0 L1317.2 707.0 L1319.6 707.0 L1320.8 714.0 L1322.2 716.0 L1324.2 714.0 L1326.2 712.4 L1329.3 712.0 L1332.3 713.0 L1334.3 712.0 L1335.7 714.0 L1336.9 708.0 L1338.3 707.6 L1339.7 711.0 L1341.3 714.0 L1344.4 714.0 L1347.4 713.0 L1349.4 714.0 L1351.0 706.0 L1353.0 699.9 L1354.6 694.9 L1355.8 697.9 L1357.1 706.0 L1358.5 700.9 L1359.9 708.0 L1361.5 704.0 L1363.1 707.0 L1364.5 704.0 L1365.9 697.9 L1367.5 693.9 L1369.1 675.7 L1370.6 679.8 L1372.0 693.9 L1373.2 704.0 L1374.6 695.9 L1376.0 696.9 L1377.6 699.9 L1379.2 708.0 L1380.6 692.9 L1381.6 693.9 L1383.3 704.0 L1384.7 709.0 L1386.1 709.6 L1387.3 696.9 L1388.3 695.9 L1389.3 718.1 L1391.7 717.1 L1394.1 716.0 L1396.1 717.1 L1398.2 715.0 L1399.8 721.1 L1401.4 724.5 L1402.8 717.1 L1404.2 713.6 L1406.8 713.0 L1409.4 712.0 L1411.9 709.0 L1413.9 704.0 L1415.9 701.5 L1417.9 700.9 L1419.9 699.9 L1421.3 708.0 L1422.9 716.0 L1425.0 724.1 L1427.0 721.1 L1429.0 716.0 L1431.0 710.0 L1432.4 706.0 L1434.0 714.0 L1435.6 719.1 L1437.7 721.1 L1439.7 718.1 L1441.1 721.1 L1442.7 716.0 L1444.1 708.0 L1445.3 701.9 L1446.5 716.0 L1448.5 723.7 L1451.2 724.5 L1454.2 724.5 L1457.2 723.7 L1459.7 726.1 L1462.1 728.5 L1465.1 729.7 L1469.1 730.6 L1490.3 730.6 L1510.4 730.6 L1530.6 730.1 L1544.7 730.1 L1548.7 729.7 L1550.1 724.1 L1551.3 721.1 L1552.8 721.7 L1553.8 727.1 L1555.8 728.1 L1558.8 727.7 L1561.8 727.1 L1563.8 724.1 L1565.3 716.0 L1566.9 704.0 L1568.9 695.9 L1570.5 692.9 L1571.9 699.9 L1573.3 702.9 L1574.9 699.9 L1576.5 704.0 L1577.9 706.0 L1580.0 704.0 L1582.0 702.3 L1583.4 708.0 L1585.4 713.0 L1587.4 715.0 L1589.0 712.0 L1590.6 709.6 L1592.1 714.0 L1594.1 715.6 L1596.1 715.0 L1598.1 715.6 L1600.1 715.0 L1602.1 717.1 L1603.5 718.1 L1605.1 720.1 L1607.2 717.7 L1609.2 716.0 L1611.2 715.0 L1613.6 715.0 L1615.6 714.0 L1617.6 709.0 L1619.7 701.9 L1621.7 693.9 L1623.3 684.8 L1624.9 687.8 L1626.3 691.9 L1627.7 690.9 L1628.9 697.9 L1630.3 690.9 L1632.3 688.2 L1635.0 687.4 L1637.4 686.8 L1639.4 685.8 L1641.0 684.8 L1642.4 682.8 L1643.4 695.9 L1644.4 700.9 L1645.4 687.8 L1646.5 675.7 L1647.9 675.3 L1649.1 687.8 L1650.5 696.9 L1652.5 699.9 L1654.5 700.9 L1656.5 701.5 L1657.9 704.0 L1659.1 697.9 L1660.2 704.0 L1661.2 710.4 L1662.6 698.9 L1663.6 695.9 L1664.8 702.3 L1666.0 697.9 L1667.2 701.9 L1669.2 701.5 L1670.6 694.9 L1672.0 687.8 L1673.3 685.8 L1674.7 691.9 L1676.1 699.9 L1677.7 709.0 L1679.3 709.6 L1680.7 699.9 L1682.1 685.8 L1683.7 684.8 L1684.7 691.9 L1686.1 687.8 L1687.8 683.8 L1689.4 682.8 L1690.8 685.4 L1692.2 693.9 L1693.8 702.9 L1695.8 700.9 L1697.4 698.9 L1698.8 701.5 L1700.3 708.0 L1701.9 706.0 L1703.5 697.9 L1704.9 690.9 L1706.9 693.5 L1708.3 687.8 L1709.9 683.8 L1711.5 679.8 L1712.9 684.8 L1714.4 693.9 L1715.6 698.9 L1716.6 655.6 L1717.6 629.4 L1718.6 655.6 L1719.6 679.8 L1721.0 681.8 L1723.0 678.8 L1724.4 677.8 L1726.0 683.8 L1727.7 688.8 L1729.3 693.9 L1731.1 692.9 L1732.5 687.8 L1734.1 683.8 L1736.1 683.8 L1737.7 696.9 L1738.7 687.8 L1739.7 678.8 L1741.2 679.8 L1742.6 683.8 L1744.2 686.8 L1745.8 691.9 L1747.2 694.3 L1748.6 694.9 L1749.1 685.8 L1750.5 665.7 L1751.7 657.6 L1753.1 669.7 L1754.5 671.7 L1756.1 671.7 L1757.7 659.6 L1758.7 655.6 L1760.1 681.8 L1761.2 700.9 L1762.6 692.9 L1763.8 699.9 L1765.2 707.6 L1767.2 708.0 L1768.6 695.9 L1770.2 674.7 L1771.8 671.7 L1773.2 665.7 L1774.7 651.6 L1775.7 649.6 L1776.9 671.7 L1778.3 691.9 L1779.9 682.8 L1781.3 685.4 L1783.3 685.4 L1785.3 677.8 L1786.7 674.7 L1788.0 691.9 L1789.4 699.9 L1790.8 706.0 L1792.4 716.0 L1794.0 704.0 L1795.4 661.6 L1796.8 655.6 L1798.0 637.5 L1799.0 631.4 L1800.4 659.6 L1802.1 675.7 L1804.1 677.4 L1806.1 675.7 L1807.5 663.7 L1808.9 651.6 L1810.1 659.6 L1811.5 667.7 L1813.5 663.7 L1816.2 663.7 L1818.2 665.7 L1819.6 673.7 L1821.0 682.8 L1822.6 679.8 L1824.2 665.7 L1825.6 651.6 L1826.6 647.1 L1828.3 659.6 L1829.7 669.7 L1831.7 677.8 L1833.7 675.7 L1835.1 673.7 L1836.3 655.6 L1837.7 607.2 L1838.7 606.2 L1840.1 618.3 L1841.8 617.3 L1843.2 627.4 L1844.8 621.3 L1846.4 607.2 L1847.8 603.2 L1849.2 625.4 L1850.4 645.5 L1852.2 645.5 L1853.2 655.6 L1854.4 675.7 L1855.9 697.9 L1857.3 712.0 L1858.9 716.0 L1860.5 714.0 L1861.9 706.0 L1863.3 699.9 L1864.9 696.9 L1866.5 697.9 L1868.6 691.9 L1871.0 686.8 L1873.4 687.8 L1875.4 689.8 L1877.0 679.8 L1878.6 665.7 L1880.0 659.6 L1881.4 667.7 L1883.1 669.7 L1885.5 669.7 L1887.1 655.6 L1888.7 635.4 L1890.1 643.5 L1891.5 627.4 L1892.7 611.3 L1894.1 602.2 L1896.2 601.2 L1898.2 600.8 L1899.2 587.1 L1900.4 564.9 L1902.3 497.0 L1904.7 565.3 L1906.8 587.1 L1908.2 600.2 L1909.7 609.3 L1910.9 615.3 L1911.9 655.6 L1912.7 679.8 L1913.7 655.6 L1914.9 645.5 L1916.3 635.4 L1917.7 628.4 L1919.3 626.4 L1920.9 624.4 L1922.3 619.3 L1923.8 595.1 L1924.6 583.7 L1926.4 587.1 L1928.2 582.3 L1930.0 595.1 L1931.0 575.0 L1932.0 567.3 L1932.8 595.1 L1933.4 625.4 L1934.4 685.8 L1935.0 714.0 L1936.5 706.0 L1938.5 693.9 L1939.9 683.8 L1941.1 689.8 L1942.5 655.6 L1943.9 644.5 L1945.1 655.6 L1946.5 671.7 L1947.9 683.8 L1950.0 687.8 L1951.6 695.9 L1953.2 704.0 L1954.6 691.9 L1956.0 679.8 L1957.6 669.7 L1959.2 655.6 L1960.6 652.6 L1961.6 671.7 L1963.3 691.9 L1964.7 671.7 L1966.1 657.6 L1967.3 655.6 L1968.7 665.7 L1970.1 669.7 L1971.7 662.6 L1973.3 661.6 L1974.7 669.7 L1976.1 687.8 L1977.8 712.0 L1979.4 709.0 L1980.8 699.9 L1982.8 689.8 L1984.8 683.8 L1985.8 635.4 L1987.4 590.1 L1988.8 601.2 L1990.3 607.2 L1991.9 587.1 L1993.5 586.1 L1994.9 587.1 L1995.9 615.3 L1997.5 645.5 L1998.9 665.7 L1999.9 684.8 L2001.3 667.7 L2002.5 655.6 L2004.0 671.7 L2005.6 691.9 L2008.0 691.9 L2010.0 690.9 L2011.6 688.8 L2014.0 683.8" stroke="#ff0000"/>
</g>
<rect x="1162.2" y="449.3" width="849.3" height="281.4" fill="none" stroke="#000" stroke-width="1.11"/>
<path d="M1162.7 730.7v4.86M1332.5 730.7v4.86M1502.3 730.7v4.86M1672.0 730.7v4.86M1841.8 730.7v4.86M2011.6 730.7v4.86M1162.2 730.7h-4.86M1162.2 674.4h-4.86M1162.2 618.1h-4.86M1162.2 561.9h-4.86M1162.2 505.6h-4.86M1162.2 449.3h-4.86" stroke="#000" stroke-width="1.11" fill="none"/>
<g font-family='"DejaVu Sans", "Liberation Sans", sans-serif' font-size="15.28" fill="#000" stroke="#000" stroke-width="0.25">
<text transform="translate(1163.4 753.0)" font-size="15" text-anchor="middle">30.9</text>
<text transform="translate(1333.2 753.0)" font-size="15" text-anchor="middle">31.0</text>
<text transform="translate(1503.0 753.0)" font-size="15" text-anchor="middle">31.1</text>
<text transform="translate(1672.7 753.0)" font-size="15" text-anchor="middle">31.2</text>
<text transform="translate(1842.5 753.0)" font-size="15" text-anchor="middle">31.3</text>
<text transform="translate(2012.3 753.0)" font-size="15" text-anchor="middle">31.4</text>
<text transform="translate(1153.6 736.7)" font-size="15" text-anchor="end">0.0</text>
<text transform="translate(1153.6 680.4)" font-size="15" text-anchor="end">0.2</text>
<text transform="translate(1153.6 624.1)" font-size="15" text-anchor="end">0.4</text>
<text transform="translate(1153.6 567.9)" font-size="15" text-anchor="end">0.6</text>
<text transform="translate(1153.6 511.6)" font-size="15" text-anchor="end">0.8</text>
<text transform="translate(1153.6 455.3)" font-size="15" text-anchor="end">1.0</text>
<text x="1162.2" y="445.8" font-size="11.8">1e6</text>
<rect x="1630.8" y="457.2" width="372.8" height="49.2" rx="3" ry="3" fill="#fff" fill-opacity="0.8" stroke="#ccc" stroke-opacity="0.8" stroke-width="1.39"/>
<path d="M1635.8 469.4h32.5" stroke="#0000ff" stroke-width="2.08"/>
<path d="M1635.8 491.6h32.5" stroke="#ff0000" stroke-width="2.08"/>
<text transform="translate(1679.7 475.2) scale(1 0.99)" font-size="15.2">All samples</text>
<text transform="translate(1679.7 497.4) scale(1 0.99)" font-size="15.2">Haplotypes with rs4947296 derived allele</text>
</g>
<text transform="translate(1570.3 432.4) scale(1 1.02)" font-family='"Liberation Sans", "DejaVu Sans", sans-serif' font-size="33.9" font-weight="bold" font-style="italic" stroke="#000" stroke-width="0.5">HLA</text>
<text x="1425.1" y="789.2" font-family='"Liberation Sans", "DejaVu Sans", sans-serif' font-size="25" stroke="#000" stroke-width="0.5">Genomic coordinates (Mb)</text>
<text transform="translate(1062.1 589.0) rotate(-90)" text-anchor="middle" font-family='"Liberation Sans", "DejaVu Sans", sans-serif' font-size="25" stroke="#000" stroke-width="0.5">Average pairwise TMRCA</text>
<text transform="translate(1090.9 589.0) rotate(-90)" text-anchor="middle" font-family='"Liberation Sans", "DejaVu Sans", sans-serif' font-size="25" stroke="#000" stroke-width="0.5">(generations)</text>
</svg>
</body></html>
